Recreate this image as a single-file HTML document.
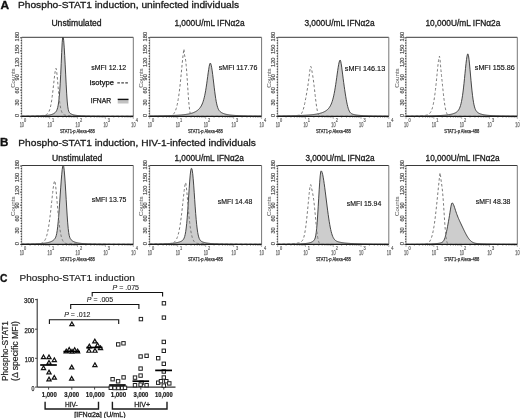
<!DOCTYPE html>
<html><head><meta charset="utf-8"><style>
html,body{margin:0;padding:0;background:#fff;overflow:hidden;}
svg{display:block;font-family:"Liberation Sans", sans-serif;}
.main{will-change:transform;}
</style></head><body>
<svg class="main" width="520" height="418" viewBox="0 0 520 418" font-family='"Liberation Sans", sans-serif'>
<rect width="520" height="418" fill="#fff"/>
<text x="0.40" y="8.70" font-size="10.2" textLength="8.60" lengthAdjust="spacingAndGlyphs" font-weight="bold" fill="#111" stroke="#111" stroke-width="0.3">A</text>
<text x="17.90" y="8.00" font-size="9.6" textLength="221.30" lengthAdjust="spacingAndGlyphs" fill="#1a1a1a" stroke="#1a1a1a" stroke-width="0.3">Phospho-STAT1 induction, uninfected individuals</text>
<text x="0.00" y="146.30" font-size="10.2" textLength="8.40" lengthAdjust="spacingAndGlyphs" font-weight="bold" fill="#111" stroke="#111" stroke-width="0.3">B</text>
<text x="18.30" y="145.60" font-size="9.6" textLength="237.60" lengthAdjust="spacingAndGlyphs" fill="#1a1a1a" stroke="#1a1a1a" stroke-width="0.3">Phospho-STAT1 induction, HIV-1-infected individuals</text>
<text x="0.00" y="282.00" font-size="10.2" textLength="7.40" lengthAdjust="spacingAndGlyphs" font-weight="bold" fill="#111" stroke="#111" stroke-width="0.3">C</text>
<text x="19.50" y="280.90" font-size="9.8" textLength="115.30" lengthAdjust="spacingAndGlyphs" fill="#1a1a1a" stroke="#1a1a1a" stroke-width="0.15">Phospho-STAT1 induction</text>
<text x="51.40" y="26.10" font-size="8.5" textLength="50.20" lengthAdjust="spacingAndGlyphs" fill="#1a1a1a" stroke="#1a1a1a" stroke-width="0.3">Unstimulated</text>
<svg x="21.7" y="37.3" width="111.6" height="79.00" viewBox="21.7 37.3 111.6 79.00" overflow="hidden">
<path d="M21.7,116.16 L22.2,116.16 L22.7,116.15 L23.2,116.15 L23.7,116.14 L24.2,116.14 L24.7,116.14 L25.2,116.13 L25.7,116.13 L26.2,116.12 L26.7,116.12 L27.2,116.11 L27.7,116.11 L28.2,116.10 L28.7,116.10 L29.2,116.09 L29.7,116.08 L30.2,116.08 L30.7,116.07 L31.2,116.06 L31.7,116.06 L32.2,116.05 L32.7,116.04 L33.2,116.03 L33.7,116.02 L34.2,116.01 L34.7,116.00 L35.2,115.99 L35.7,115.98 L36.2,115.97 L36.7,115.95 L37.2,115.94 L37.7,115.93 L38.2,115.91 L38.7,115.89 L39.2,115.88 L39.7,115.86 L40.2,115.84 L40.7,115.82 L41.2,115.80 L41.7,115.77 L42.2,115.75 L42.7,115.72 L43.2,115.69 L43.7,115.66 L44.2,115.62 L44.7,115.59 L45.2,115.55 L45.7,115.50 L46.2,115.46 L46.7,115.40 L47.2,115.35 L47.7,115.28 L48.2,115.22 L48.7,115.14 L49.2,115.06 L49.7,114.96 L50.2,114.86 L50.7,114.74 L51.2,114.61 L51.7,114.46 L52.2,114.29 L52.7,114.10 L53.2,113.88 L53.7,113.62 L54.2,113.32 L54.7,112.97 L55.2,112.54 L55.7,112.01 L56.2,111.33 L56.7,110.44 L57.2,109.22 L57.7,107.54 L58.2,105.18 L58.7,101.90 L59.2,97.42 L59.7,91.45 L60.2,83.81 L60.7,74.45 L61.2,63.67 L61.7,52.36 L62.2,42.40 L62.7,36.57 L62.9,36.00 L63.2,36.66 L63.7,40.58 L64.2,47.17 L64.7,55.46 L65.2,64.87 L65.7,74.92 L66.2,84.89 L66.7,93.86 L67.2,101.04 L67.7,106.13 L68.2,109.34 L68.7,111.19 L69.2,112.24 L69.7,112.87 L70.2,113.32 L70.7,113.67 L71.2,113.96 L71.7,114.20 L72.2,114.41 L72.7,114.59 L73.2,114.74 L73.7,114.88 L74.2,115.00 L74.7,115.10 L75.2,115.19 L75.7,115.28 L76.2,115.35 L76.7,115.41 L77.2,115.47 L77.7,115.53 L78.2,115.58 L78.7,115.62 L79.2,115.66 L79.7,115.70 L80.2,115.73 L80.7,115.76 L81.2,115.79 L81.7,115.82 L82.2,115.84 L82.7,115.86 L83.2,115.89 L83.7,115.90 L84.2,115.92 L84.7,115.94 L85.2,115.96 L85.7,115.97 L86.2,115.98 L86.7,116.00 L87.2,116.01 L87.7,116.02 L88.2,116.03 L88.7,116.04 L89.2,116.05 L89.7,116.06 L90.2,116.07 L90.7,116.08 L91.2,116.09 L91.7,116.09 L92.2,116.10 L92.7,116.11 L93.2,116.11 L93.7,116.12 L94.2,116.12 L94.7,116.13 L95.2,116.14 L95.7,116.14 L96.2,116.14 L96.7,116.15 L97.2,116.15 L97.7,116.16 L98.2,116.16 L98.7,116.17 L99.2,116.17 L99.7,116.17 L100.2,116.18 L100.7,116.18 L101.2,116.18 L101.7,116.19 L102.2,116.19 L102.7,116.19 L103.2,116.19 L103.7,116.20 L104.2,116.20 L104.7,116.20 L105.2,116.20 L105.7,116.21 L106.2,116.21 L106.7,116.21 L107.2,116.21 L107.7,116.21 L108.2,116.22 L108.7,116.22 L109.2,116.22 L109.7,116.22 L110.2,116.22 L110.7,116.22 L111.2,116.23 L111.7,116.23 L112.2,116.23 L112.7,116.23 L113.2,116.23 L113.7,116.23 L114.2,116.23 L114.7,116.24 L115.2,116.24 L115.7,116.24 L116.2,116.24 L116.7,116.24 L117.2,116.24 L117.7,116.24 L118.2,116.24 L118.7,116.24 L119.2,116.25 L119.7,116.25 L120.2,116.25 L120.7,116.25 L121.2,116.25 L121.7,116.25 L122.2,116.25 L122.7,116.25 L123.2,116.25 L123.7,116.25 L124.2,116.25 L124.7,116.25 L125.2,116.26 L125.7,116.26 L126.2,116.26 L126.7,116.26 L127.2,116.26 L127.7,116.26 L128.2,116.26 L128.7,116.26 L129.2,116.26 L129.7,116.26 L130.2,116.26 L130.7,116.26 L131.2,116.26 L131.7,116.26 L132.2,116.26 L132.7,116.26 L133.2,116.27 L133.3,119.3 L21.7,119.3 Z" fill="#cdcdcd" stroke="#333" stroke-width="0.9"/>
<path d="M21.7,116.15 L22.2,116.14 L22.7,116.14 L23.2,116.13 L23.7,116.13 L24.2,116.12 L24.7,116.12 L25.2,116.11 L25.7,116.11 L26.2,116.10 L26.7,116.09 L27.2,116.09 L27.7,116.08 L28.2,116.07 L28.7,116.06 L29.2,116.05 L29.7,116.05 L30.2,116.04 L30.7,116.03 L31.2,116.02 L31.7,116.00 L32.2,115.99 L32.7,115.98 L33.2,115.97 L33.7,115.95 L34.2,115.94 L34.7,115.92 L35.2,115.90 L35.7,115.89 L36.2,115.87 L36.7,115.85 L37.2,115.82 L37.7,115.80 L38.2,115.77 L38.7,115.74 L39.2,115.71 L39.7,115.68 L40.2,115.65 L40.7,115.61 L41.2,115.57 L41.7,115.52 L42.2,115.47 L42.7,115.41 L43.2,115.35 L43.7,115.27 L44.2,115.18 L44.7,115.08 L45.2,114.95 L45.7,114.79 L46.2,114.58 L46.7,114.32 L47.2,113.96 L47.7,113.50 L48.2,112.89 L48.7,112.09 L49.2,111.05 L49.7,109.70 L50.2,108.00 L50.7,105.88 L51.2,103.30 L51.7,100.21 L52.2,96.63 L52.7,92.59 L53.2,88.19 L53.7,83.59 L54.2,79.02 L54.7,74.77 L55.2,71.23 L55.7,68.86 L56.0,68.30 L56.2,68.71 L56.7,71.70 L57.2,76.41 L57.7,81.97 L58.2,87.74 L58.7,93.23 L59.2,98.12 L59.7,102.28 L60.2,105.65 L60.7,108.28 L61.2,110.28 L61.7,111.76 L62.2,112.82 L62.7,113.58 L63.2,114.12 L63.7,114.50 L64.2,114.77 L64.7,114.97 L65.2,115.12 L65.7,115.24 L66.2,115.34 L66.7,115.42 L67.2,115.49 L67.7,115.55 L68.2,115.60 L68.7,115.65 L69.2,115.70 L69.7,115.73 L70.2,115.77 L70.7,115.80 L71.2,115.83 L71.7,115.86 L72.2,115.88 L72.7,115.91 L73.2,115.93 L73.7,115.95 L74.2,115.97 L74.7,115.98 L75.2,116.00 L75.7,116.01 L76.2,116.02 L76.7,116.04 L77.2,116.05 L77.7,116.06 L78.2,116.07 L78.7,116.08 L79.2,116.09 L79.7,116.10 L80.2,116.11 L80.7,116.11 L81.2,116.12 L81.7,116.13 L82.2,116.13 L82.7,116.14 L83.2,116.14 L83.7,116.15 L84.2,116.16 L84.7,116.16 L85.2,116.16 L85.7,116.17 L86.2,116.17 L86.7,116.18 L87.2,116.18 L87.7,116.18 L88.2,116.19 L88.7,116.19 L89.2,116.19 L89.7,116.20 L90.2,116.20 L90.7,116.20 L91.2,116.21 L91.7,116.21 L92.2,116.21 L92.7,116.21 L93.2,116.22 L93.7,116.22 L94.2,116.22 L94.7,116.22 L95.2,116.22 L95.7,116.23 L96.2,116.23 L96.7,116.23 L97.2,116.23 L97.7,116.23 L98.2,116.23 L98.7,116.24 L99.2,116.24 L99.7,116.24 L100.2,116.24 L100.7,116.24 L101.2,116.24 L101.7,116.24 L102.2,116.25 L102.7,116.25 L103.2,116.25 L103.7,116.25 L104.2,116.25 L104.7,116.25 L105.2,116.25 L105.7,116.25 L106.2,116.25 L106.7,116.25 L107.2,116.26 L107.7,116.26 L108.2,116.26 L108.7,116.26 L109.2,116.26 L109.7,116.26 L110.2,116.26 L110.7,116.26 L111.2,116.26 L111.7,116.26 L112.2,116.26 L112.7,116.26 L113.2,116.26 L113.7,116.26 L114.2,116.27 L114.7,116.27 L115.2,116.27 L115.7,116.27 L116.2,116.27 L116.7,116.27 L117.2,116.27 L117.7,116.27 L118.2,116.27 L118.7,116.27 L119.2,116.27 L119.7,116.27 L120.2,116.27 L120.7,116.27 L121.2,116.27 L121.7,116.27 L122.2,116.27 L122.7,116.27 L123.2,116.27 L123.7,116.27 L124.2,116.27 L124.7,116.28 L125.2,116.28 L125.7,116.28 L126.2,116.28 L126.7,116.28 L127.2,116.28 L127.7,116.28 L128.2,116.28 L128.7,116.28 L129.2,116.28 L129.7,116.28 L130.2,116.28 L130.7,116.28 L131.2,116.28 L131.7,116.28 L132.2,116.28 L132.7,116.28 L133.2,116.28" fill="none" stroke="#7a7a7a" stroke-width="1.0" stroke-dasharray="2.6,2.2"/>
</svg>
<line x1="21.70" y1="37.30" x2="133.30" y2="37.30" stroke="#3a3a3a" stroke-width="1"/>
<line x1="133.30" y1="37.30" x2="133.30" y2="116.30" stroke="#777" stroke-width="1"/>
<line x1="21.70" y1="37.30" x2="21.70" y2="116.30" stroke="#888" stroke-width="0.8"/>
<path d="M22.00,116.30 h-2.0 M22.00,113.68 h-1.3 M22.00,111.07 h-1.3 M22.00,108.45 h-1.3 M22.00,105.83 h-1.3 M22.00,103.22 h-2.0 M22.00,100.60 h-1.3 M22.00,97.98 h-1.3 M22.00,95.37 h-1.3 M22.00,92.75 h-1.3 M22.00,90.13 h-2.0 M22.00,87.52 h-1.3 M22.00,84.90 h-1.3 M22.00,82.28 h-1.3 M22.00,79.67 h-1.3 M22.00,77.05 h-2.0 M22.00,74.43 h-1.3 M22.00,71.82 h-1.3 M22.00,69.20 h-1.3 M22.00,66.58 h-1.3 M22.00,63.97 h-2.0 M22.00,61.35 h-1.3 M22.00,58.73 h-1.3 M22.00,56.12 h-1.3 M22.00,53.50 h-1.3 M22.00,50.88 h-2.0 M22.00,48.27 h-1.3 M22.00,45.65 h-1.3 M22.00,43.03 h-1.3 M22.00,40.42 h-1.3 M22.00,37.80 h-2.0" stroke="#333" stroke-width="0.9"/>
<line x1="21.30" y1="116.30" x2="133.30" y2="116.30" stroke="#1a1a1a" stroke-width="1.3"/>
<path d="M21.70,116.90 v2.0 M30.10,116.90 v1.0 M35.01,116.90 v1.0 M38.50,116.90 v1.0 M41.20,116.90 v1.0 M43.41,116.90 v1.0 M45.28,116.90 v1.0 M46.90,116.90 v1.0 M48.32,116.90 v1.0 M49.60,116.90 v2.0 M58.00,116.90 v1.0 M62.91,116.90 v1.0 M66.40,116.90 v1.0 M69.10,116.90 v1.0 M71.31,116.90 v1.0 M73.18,116.90 v1.0 M74.80,116.90 v1.0 M76.22,116.90 v1.0 M77.50,116.90 v2.0 M85.90,116.90 v1.0 M90.81,116.90 v1.0 M94.30,116.90 v1.0 M97.00,116.90 v1.0 M99.21,116.90 v1.0 M101.08,116.90 v1.0 M102.70,116.90 v1.0 M104.12,116.90 v1.0 M105.40,116.90 v2.0 M113.80,116.90 v1.0 M118.71,116.90 v1.0 M122.20,116.90 v1.0 M124.90,116.90 v1.0 M127.11,116.90 v1.0 M128.98,116.90 v1.0 M130.60,116.90 v1.0 M132.02,116.90 v1.0 M133.30,116.90 v2.0" stroke="#666" stroke-width="0.5"/>
<text transform="translate(19.30,115.50) rotate(-90)" font-size="4.6" text-anchor="middle" textLength="3.20" lengthAdjust="spacingAndGlyphs" fill="#555" stroke="#555" stroke-width="0.2">0</text>
<text transform="translate(19.30,102.40) rotate(-90)" font-size="4.6" text-anchor="middle" textLength="6.20" lengthAdjust="spacingAndGlyphs" fill="#555" stroke="#555" stroke-width="0.2">30</text>
<text transform="translate(19.30,90.30) rotate(-90)" font-size="4.6" text-anchor="middle" textLength="6.20" lengthAdjust="spacingAndGlyphs" fill="#555" stroke="#555" stroke-width="0.2">60</text>
<text transform="translate(19.30,77.30) rotate(-90)" font-size="4.6" text-anchor="middle" textLength="6.20" lengthAdjust="spacingAndGlyphs" fill="#555" stroke="#555" stroke-width="0.2">90</text>
<text transform="translate(19.30,62.30) rotate(-90)" font-size="4.6" text-anchor="middle" textLength="9.40" lengthAdjust="spacingAndGlyphs" fill="#555" stroke="#555" stroke-width="0.2">120</text>
<text transform="translate(19.30,49.40) rotate(-90)" font-size="4.6" text-anchor="middle" textLength="9.40" lengthAdjust="spacingAndGlyphs" fill="#555" stroke="#555" stroke-width="0.2">150</text>
<text transform="translate(19.30,36.70) rotate(-90)" font-size="4.6" text-anchor="middle" textLength="9.40" lengthAdjust="spacingAndGlyphs" fill="#555" stroke="#555" stroke-width="0.2">180</text>
<text transform="translate(15.10,78.10) rotate(-90)" font-size="4.8" text-anchor="middle" textLength="19.50" lengthAdjust="spacingAndGlyphs" fill="#666" stroke="#666" stroke-width="0.05">Counts</text>
<text x="19.70" y="126.50" font-size="6.8" textLength="4.3" lengthAdjust="spacingAndGlyphs" fill="#666" stroke="#666" stroke-width="0.25">10</text>
<text x="24.10" y="122.30" font-size="4.8" textLength="2.2" lengthAdjust="spacingAndGlyphs" fill="#666" stroke="#666" stroke-width="0.2">0</text>
<text x="47.60" y="126.50" font-size="6.8" textLength="4.3" lengthAdjust="spacingAndGlyphs" fill="#666" stroke="#666" stroke-width="0.25">10</text>
<text x="52.00" y="122.30" font-size="4.8" textLength="2.2" lengthAdjust="spacingAndGlyphs" fill="#666" stroke="#666" stroke-width="0.2">1</text>
<text x="75.50" y="126.50" font-size="6.8" textLength="4.3" lengthAdjust="spacingAndGlyphs" fill="#666" stroke="#666" stroke-width="0.25">10</text>
<text x="79.90" y="122.30" font-size="4.8" textLength="2.2" lengthAdjust="spacingAndGlyphs" fill="#666" stroke="#666" stroke-width="0.2">2</text>
<text x="103.40" y="126.50" font-size="6.8" textLength="4.3" lengthAdjust="spacingAndGlyphs" fill="#666" stroke="#666" stroke-width="0.25">10</text>
<text x="107.80" y="122.30" font-size="4.8" textLength="2.2" lengthAdjust="spacingAndGlyphs" fill="#666" stroke="#666" stroke-width="0.2">3</text>
<text x="131.30" y="126.50" font-size="6.8" textLength="4.3" lengthAdjust="spacingAndGlyphs" fill="#666" stroke="#666" stroke-width="0.25">10</text>
<text x="135.70" y="122.30" font-size="4.8" textLength="2.2" lengthAdjust="spacingAndGlyphs" fill="#666" stroke="#666" stroke-width="0.2">4</text>
<text x="59.90" y="132.50" font-size="5.2" textLength="35" lengthAdjust="spacingAndGlyphs" fill="#333" stroke="#333" stroke-width="0.25">STAT1-p Alexa-488</text>
<text x="91.30" y="69.80" font-size="7.1" textLength="34.90" lengthAdjust="spacingAndGlyphs" fill="#111" stroke="#111" stroke-width="0.15">sMFI 12.12</text>
<text x="174.40" y="26.10" font-size="8.5" textLength="70.20" lengthAdjust="spacingAndGlyphs" fill="#1a1a1a" stroke="#1a1a1a" stroke-width="0.3">1,000U/mL IFN&#945;2a</text>
<svg x="149.7" y="37.3" width="111.9" height="79.00" viewBox="149.7 37.3 111.9 79.00" overflow="hidden">
<path d="M149.7,115.98 L150.2,115.98 L150.7,115.97 L151.2,115.97 L151.7,115.96 L152.2,115.96 L152.7,115.95 L153.2,115.94 L153.7,115.94 L154.2,115.93 L154.7,115.92 L155.2,115.92 L155.7,115.91 L156.2,115.90 L156.7,115.90 L157.2,115.89 L157.7,115.88 L158.2,115.87 L158.7,115.86 L159.2,115.86 L159.7,115.85 L160.2,115.84 L160.7,115.83 L161.2,115.82 L161.7,115.81 L162.2,115.80 L162.7,115.79 L163.2,115.78 L163.7,115.77 L164.2,115.76 L164.7,115.74 L165.2,115.73 L165.7,115.72 L166.2,115.71 L166.7,115.69 L167.2,115.68 L167.7,115.66 L168.2,115.65 L168.7,115.63 L169.2,115.62 L169.7,115.60 L170.2,115.58 L170.7,115.57 L171.2,115.55 L171.7,115.53 L172.2,115.51 L172.7,115.49 L173.2,115.47 L173.7,115.44 L174.2,115.42 L174.7,115.40 L175.2,115.37 L175.7,115.34 L176.2,115.32 L176.7,115.29 L177.2,115.26 L177.7,115.23 L178.2,115.19 L178.7,115.16 L179.2,115.12 L179.7,115.09 L180.2,115.05 L180.7,115.01 L181.2,114.96 L181.7,114.92 L182.2,114.87 L182.7,114.82 L183.2,114.77 L183.7,114.71 L184.2,114.65 L184.7,114.59 L185.2,114.53 L185.7,114.46 L186.2,114.39 L186.7,114.31 L187.2,114.23 L187.7,114.14 L188.2,114.05 L188.7,113.95 L189.2,113.84 L189.7,113.73 L190.2,113.61 L190.7,113.49 L191.2,113.35 L191.7,113.21 L192.2,113.05 L192.7,112.88 L193.2,112.70 L193.7,112.50 L194.2,112.29 L194.7,112.06 L195.2,111.82 L195.7,111.55 L196.2,111.26 L196.7,110.94 L197.2,110.59 L197.7,110.21 L198.2,109.78 L198.7,109.32 L199.2,108.80 L199.7,108.22 L200.2,107.57 L200.7,106.84 L201.2,106.02 L201.7,105.07 L202.2,103.99 L202.7,102.75 L203.2,101.32 L203.7,99.67 L204.2,97.77 L204.7,95.60 L205.2,93.12 L205.7,90.32 L206.2,87.22 L206.7,83.84 L207.2,80.24 L207.7,76.52 L208.2,72.83 L208.7,69.37 L209.2,66.38 L209.7,64.14 L210.2,63.10 L210.7,63.61 L211.2,65.17 L211.7,67.66 L212.2,70.90 L212.7,74.67 L213.2,78.75 L213.7,82.98 L214.2,87.19 L214.7,91.24 L215.2,95.01 L215.7,98.41 L216.2,101.36 L216.7,103.85 L217.2,105.89 L217.7,107.51 L218.2,108.78 L218.7,109.76 L219.2,110.53 L219.7,111.14 L220.2,111.63 L220.7,112.04 L221.2,112.38 L221.7,112.69 L222.2,112.95 L222.7,113.19 L223.2,113.40 L223.7,113.60 L224.2,113.77 L224.7,113.93 L225.2,114.07 L225.7,114.21 L226.2,114.33 L226.7,114.44 L227.2,114.54 L227.7,114.63 L228.2,114.72 L228.7,114.80 L229.2,114.88 L229.7,114.94 L230.2,115.01 L230.7,115.07 L231.2,115.12 L231.7,115.18 L232.2,115.23 L232.7,115.27 L233.2,115.31 L233.7,115.35 L234.2,115.39 L234.7,115.43 L235.2,115.46 L235.7,115.49 L236.2,115.52 L236.7,115.55 L237.2,115.58 L237.7,115.60 L238.2,115.63 L238.7,115.65 L239.2,115.67 L239.7,115.69 L240.2,115.71 L240.7,115.73 L241.2,115.75 L241.7,115.77 L242.2,115.78 L242.7,115.80 L243.2,115.81 L243.7,115.83 L244.2,115.84 L244.7,115.85 L245.2,115.87 L245.7,115.88 L246.2,115.89 L246.7,115.90 L247.2,115.91 L247.7,115.92 L248.2,115.93 L248.7,115.94 L249.2,115.95 L249.7,115.96 L250.2,115.97 L250.7,115.98 L251.2,115.98 L251.7,115.99 L252.2,116.00 L252.7,116.00 L253.2,116.01 L253.7,116.02 L254.2,116.02 L254.7,116.03 L255.2,116.04 L255.7,116.04 L256.2,116.05 L256.7,116.05 L257.2,116.06 L257.7,116.06 L258.2,116.07 L258.7,116.07 L259.2,116.08 L259.7,116.08 L260.2,116.09 L260.7,116.09 L261.2,116.09 L261.6,119.3 L149.7,119.3 Z" fill="#cdcdcd" stroke="#333" stroke-width="0.9"/>
<path d="M149.7,116.30 L150.2,116.30 L150.7,116.30 L151.2,116.30 L151.7,116.30 L152.2,116.30 L152.7,116.30 L153.2,116.30 L153.7,116.30 L154.2,116.30 L154.7,116.30 L155.2,116.30 L155.7,116.30 L156.2,116.30 L156.7,116.30 L157.2,116.30 L157.7,116.30 L158.2,116.30 L158.7,116.30 L159.2,116.30 L159.7,116.30 L160.2,116.30 L160.7,116.30 L161.2,116.30 L161.7,116.30 L162.2,116.30 L162.7,116.30 L163.2,116.30 L163.7,116.29 L164.2,116.29 L164.7,116.29 L165.2,116.28 L165.7,116.28 L166.2,116.27 L166.7,116.25 L167.2,116.24 L167.7,116.21 L168.2,116.18 L168.7,116.14 L169.2,116.08 L169.7,116.01 L170.2,115.91 L170.7,115.79 L171.2,115.62 L171.7,115.41 L172.2,115.15 L172.7,114.81 L173.2,114.38 L173.7,113.84 L174.2,113.17 L174.7,112.34 L175.2,111.33 L175.7,110.10 L176.2,108.62 L176.7,106.85 L177.2,104.76 L177.7,102.31 L178.2,99.47 L178.7,96.23 L179.2,92.56 L179.7,88.47 L180.2,83.98 L180.7,79.14 L181.2,74.03 L181.7,68.77 L182.2,63.52 L182.7,58.52 L183.2,54.08 L183.7,50.55 L184.0,49.00 L184.2,52.54 L184.7,55.95 L185.2,57.74 L185.7,60.76 L186.2,65.38 L186.7,71.54 L187.2,78.85 L187.7,86.68 L188.2,94.31 L188.7,101.07 L189.2,106.51 L189.7,110.50 L190.2,113.15 L190.7,114.74 L191.2,115.60 L191.7,116.02 L192.2,116.19 L192.7,116.26 L193.2,116.29 L193.7,116.29 L194.2,116.30 L194.7,116.30 L195.2,116.30 L195.7,116.30 L196.2,116.30 L196.7,116.30 L197.2,116.30 L197.7,116.30 L198.2,116.30 L198.7,116.30 L199.2,116.30 L199.7,116.30 L200.2,116.30 L200.7,116.30 L201.2,116.30 L201.7,116.30 L202.2,116.30 L202.7,116.30 L203.2,116.30 L203.7,116.30 L204.2,116.30 L204.7,116.30 L205.2,116.30 L205.7,116.30 L206.2,116.30 L206.7,116.30 L207.2,116.30 L207.7,116.30 L208.2,116.30 L208.7,116.30 L209.2,116.30 L209.7,116.30 L210.2,116.30 L210.7,116.30 L211.2,116.30 L211.7,116.30 L212.2,116.30 L212.7,116.30 L213.2,116.30 L213.7,116.30 L214.2,116.30 L214.7,116.30 L215.2,116.30 L215.7,116.30 L216.2,116.30 L216.7,116.30 L217.2,116.30 L217.7,116.30 L218.2,116.30 L218.7,116.30 L219.2,116.30 L219.7,116.30 L220.2,116.30 L220.7,116.30 L221.2,116.30 L221.7,116.30 L222.2,116.30 L222.7,116.30 L223.2,116.30 L223.7,116.30 L224.2,116.30 L224.7,116.30 L225.2,116.30 L225.7,116.30 L226.2,116.30 L226.7,116.30 L227.2,116.30 L227.7,116.30 L228.2,116.30 L228.7,116.30 L229.2,116.30 L229.7,116.30 L230.2,116.30 L230.7,116.30 L231.2,116.30 L231.7,116.30 L232.2,116.30 L232.7,116.30 L233.2,116.30 L233.7,116.30 L234.2,116.30 L234.7,116.30 L235.2,116.30 L235.7,116.30 L236.2,116.30 L236.7,116.30 L237.2,116.30 L237.7,116.30 L238.2,116.30 L238.7,116.30 L239.2,116.30 L239.7,116.30 L240.2,116.30 L240.7,116.30 L241.2,116.30 L241.7,116.30 L242.2,116.30 L242.7,116.30 L243.2,116.30 L243.7,116.30 L244.2,116.30 L244.7,116.30 L245.2,116.30 L245.7,116.30 L246.2,116.30 L246.7,116.30 L247.2,116.30 L247.7,116.30 L248.2,116.30 L248.7,116.30 L249.2,116.30 L249.7,116.30 L250.2,116.30 L250.7,116.30 L251.2,116.30 L251.7,116.30 L252.2,116.30 L252.7,116.30 L253.2,116.30 L253.7,116.30 L254.2,116.30 L254.7,116.30 L255.2,116.30 L255.7,116.30 L256.2,116.30 L256.7,116.30 L257.2,116.30 L257.7,116.30 L258.2,116.30 L258.7,116.30 L259.2,116.30 L259.7,116.30 L260.2,116.30 L260.7,116.30 L261.2,116.30" fill="none" stroke="#7a7a7a" stroke-width="1.0" stroke-dasharray="2.6,2.2"/>
</svg>
<line x1="149.70" y1="37.30" x2="261.60" y2="37.30" stroke="#3a3a3a" stroke-width="1"/>
<line x1="261.60" y1="37.30" x2="261.60" y2="116.30" stroke="#777" stroke-width="1"/>
<line x1="149.70" y1="37.30" x2="149.70" y2="116.30" stroke="#888" stroke-width="0.8"/>
<path d="M150.00,116.30 h-2.0 M150.00,113.68 h-1.3 M150.00,111.07 h-1.3 M150.00,108.45 h-1.3 M150.00,105.83 h-1.3 M150.00,103.22 h-2.0 M150.00,100.60 h-1.3 M150.00,97.98 h-1.3 M150.00,95.37 h-1.3 M150.00,92.75 h-1.3 M150.00,90.13 h-2.0 M150.00,87.52 h-1.3 M150.00,84.90 h-1.3 M150.00,82.28 h-1.3 M150.00,79.67 h-1.3 M150.00,77.05 h-2.0 M150.00,74.43 h-1.3 M150.00,71.82 h-1.3 M150.00,69.20 h-1.3 M150.00,66.58 h-1.3 M150.00,63.97 h-2.0 M150.00,61.35 h-1.3 M150.00,58.73 h-1.3 M150.00,56.12 h-1.3 M150.00,53.50 h-1.3 M150.00,50.88 h-2.0 M150.00,48.27 h-1.3 M150.00,45.65 h-1.3 M150.00,43.03 h-1.3 M150.00,40.42 h-1.3 M150.00,37.80 h-2.0" stroke="#333" stroke-width="0.9"/>
<line x1="149.30" y1="116.30" x2="261.60" y2="116.30" stroke="#1a1a1a" stroke-width="1.3"/>
<path d="M149.70,116.90 v2.0 M158.12,116.90 v1.0 M163.05,116.90 v1.0 M166.54,116.90 v1.0 M169.25,116.90 v1.0 M171.47,116.90 v1.0 M173.34,116.90 v1.0 M174.96,116.90 v1.0 M176.39,116.90 v1.0 M177.67,116.90 v2.0 M186.10,116.90 v1.0 M191.02,116.90 v1.0 M194.52,116.90 v1.0 M197.23,116.90 v1.0 M199.44,116.90 v1.0 M201.32,116.90 v1.0 M202.94,116.90 v1.0 M204.37,116.90 v1.0 M205.65,116.90 v2.0 M214.07,116.90 v1.0 M219.00,116.90 v1.0 M222.49,116.90 v1.0 M225.20,116.90 v1.0 M227.42,116.90 v1.0 M229.29,116.90 v1.0 M230.91,116.90 v1.0 M232.34,116.90 v1.0 M233.62,116.90 v2.0 M242.05,116.90 v1.0 M246.97,116.90 v1.0 M250.47,116.90 v1.0 M253.18,116.90 v1.0 M255.39,116.90 v1.0 M257.27,116.90 v1.0 M258.89,116.90 v1.0 M260.32,116.90 v1.0 M261.60,116.90 v2.0" stroke="#666" stroke-width="0.5"/>
<text transform="translate(147.30,115.50) rotate(-90)" font-size="4.6" text-anchor="middle" textLength="3.20" lengthAdjust="spacingAndGlyphs" fill="#555" stroke="#555" stroke-width="0.2">0</text>
<text transform="translate(147.30,102.40) rotate(-90)" font-size="4.6" text-anchor="middle" textLength="6.20" lengthAdjust="spacingAndGlyphs" fill="#555" stroke="#555" stroke-width="0.2">30</text>
<text transform="translate(147.30,90.30) rotate(-90)" font-size="4.6" text-anchor="middle" textLength="6.20" lengthAdjust="spacingAndGlyphs" fill="#555" stroke="#555" stroke-width="0.2">60</text>
<text transform="translate(147.30,77.30) rotate(-90)" font-size="4.6" text-anchor="middle" textLength="6.20" lengthAdjust="spacingAndGlyphs" fill="#555" stroke="#555" stroke-width="0.2">90</text>
<text transform="translate(147.30,62.30) rotate(-90)" font-size="4.6" text-anchor="middle" textLength="9.40" lengthAdjust="spacingAndGlyphs" fill="#555" stroke="#555" stroke-width="0.2">120</text>
<text transform="translate(147.30,49.40) rotate(-90)" font-size="4.6" text-anchor="middle" textLength="9.40" lengthAdjust="spacingAndGlyphs" fill="#555" stroke="#555" stroke-width="0.2">150</text>
<text transform="translate(147.30,36.70) rotate(-90)" font-size="4.6" text-anchor="middle" textLength="9.40" lengthAdjust="spacingAndGlyphs" fill="#555" stroke="#555" stroke-width="0.2">180</text>
<text transform="translate(143.10,78.10) rotate(-90)" font-size="4.8" text-anchor="middle" textLength="19.50" lengthAdjust="spacingAndGlyphs" fill="#666" stroke="#666" stroke-width="0.05">Counts</text>
<text x="147.70" y="126.50" font-size="6.8" textLength="4.3" lengthAdjust="spacingAndGlyphs" fill="#666" stroke="#666" stroke-width="0.25">10</text>
<text x="152.10" y="122.30" font-size="4.8" textLength="2.2" lengthAdjust="spacingAndGlyphs" fill="#666" stroke="#666" stroke-width="0.2">0</text>
<text x="175.67" y="126.50" font-size="6.8" textLength="4.3" lengthAdjust="spacingAndGlyphs" fill="#666" stroke="#666" stroke-width="0.25">10</text>
<text x="180.07" y="122.30" font-size="4.8" textLength="2.2" lengthAdjust="spacingAndGlyphs" fill="#666" stroke="#666" stroke-width="0.2">1</text>
<text x="203.65" y="126.50" font-size="6.8" textLength="4.3" lengthAdjust="spacingAndGlyphs" fill="#666" stroke="#666" stroke-width="0.25">10</text>
<text x="208.05" y="122.30" font-size="4.8" textLength="2.2" lengthAdjust="spacingAndGlyphs" fill="#666" stroke="#666" stroke-width="0.2">2</text>
<text x="231.62" y="126.50" font-size="6.8" textLength="4.3" lengthAdjust="spacingAndGlyphs" fill="#666" stroke="#666" stroke-width="0.25">10</text>
<text x="236.03" y="122.30" font-size="4.8" textLength="2.2" lengthAdjust="spacingAndGlyphs" fill="#666" stroke="#666" stroke-width="0.2">3</text>
<text x="259.60" y="126.50" font-size="6.8" textLength="4.3" lengthAdjust="spacingAndGlyphs" fill="#666" stroke="#666" stroke-width="0.25">10</text>
<text x="264.00" y="122.30" font-size="4.8" textLength="2.2" lengthAdjust="spacingAndGlyphs" fill="#666" stroke="#666" stroke-width="0.2">4</text>
<text x="187.90" y="132.50" font-size="5.2" textLength="35" lengthAdjust="spacingAndGlyphs" fill="#333" stroke="#333" stroke-width="0.25">STAT1-p Alexa-488</text>
<text x="218.80" y="70.40" font-size="7.1" textLength="38.50" lengthAdjust="spacingAndGlyphs" fill="#111" stroke="#111" stroke-width="0.15">sMFI 117.76</text>
<text x="304.40" y="26.10" font-size="8.5" textLength="70.20" lengthAdjust="spacingAndGlyphs" fill="#1a1a1a" stroke="#1a1a1a" stroke-width="0.3">3,000U/mL IFN&#945;2a</text>
<svg x="277.7" y="37.3" width="111.1" height="79.00" viewBox="277.7 37.3 111.1 79.00" overflow="hidden">
<path d="M277.7,115.97 L278.2,115.96 L278.7,115.96 L279.2,115.95 L279.7,115.94 L280.2,115.94 L280.7,115.93 L281.2,115.93 L281.7,115.92 L282.2,115.91 L282.7,115.91 L283.2,115.90 L283.7,115.89 L284.2,115.88 L284.7,115.88 L285.2,115.87 L285.7,115.86 L286.2,115.85 L286.7,115.85 L287.2,115.84 L287.7,115.83 L288.2,115.82 L288.7,115.81 L289.2,115.80 L289.7,115.79 L290.2,115.78 L290.7,115.77 L291.2,115.76 L291.7,115.75 L292.2,115.74 L292.7,115.73 L293.2,115.71 L293.7,115.70 L294.2,115.69 L294.7,115.67 L295.2,115.66 L295.7,115.65 L296.2,115.63 L296.7,115.62 L297.2,115.60 L297.7,115.58 L298.2,115.57 L298.7,115.55 L299.2,115.53 L299.7,115.51 L300.2,115.49 L300.7,115.47 L301.2,115.45 L301.7,115.43 L302.2,115.41 L302.7,115.39 L303.2,115.36 L303.7,115.34 L304.2,115.31 L304.7,115.28 L305.2,115.26 L305.7,115.23 L306.2,115.19 L306.7,115.16 L307.2,115.13 L307.7,115.09 L308.2,115.06 L308.7,115.02 L309.2,114.98 L309.7,114.94 L310.2,114.89 L310.7,114.85 L311.2,114.80 L311.7,114.75 L312.2,114.69 L312.7,114.64 L313.2,114.58 L313.7,114.52 L314.2,114.45 L314.7,114.38 L315.2,114.31 L315.7,114.23 L316.2,114.15 L316.7,114.06 L317.2,113.97 L317.7,113.87 L318.2,113.77 L318.7,113.66 L319.2,113.54 L319.7,113.41 L320.2,113.28 L320.7,113.14 L321.2,112.98 L321.7,112.82 L322.2,112.64 L322.7,112.45 L323.2,112.25 L323.7,112.03 L324.2,111.79 L324.7,111.53 L325.2,111.25 L325.7,110.95 L326.2,110.61 L326.7,110.24 L327.2,109.83 L327.7,109.38 L328.2,108.87 L328.7,108.31 L329.2,107.67 L329.7,106.94 L330.2,106.12 L330.7,105.18 L331.2,104.10 L331.7,102.86 L332.2,101.44 L332.7,99.80 L333.2,97.94 L333.7,95.83 L334.2,93.44 L334.7,90.78 L335.2,87.84 L335.7,84.65 L336.2,81.24 L336.7,77.69 L337.2,74.09 L337.7,70.56 L338.2,67.26 L338.7,64.37 L339.2,62.07 L339.7,60.56 L340.1,60.10 L340.2,60.13 L340.7,61.24 L341.2,63.72 L341.7,67.11 L342.2,70.95 L342.7,74.91 L343.2,78.80 L343.7,82.57 L344.2,86.21 L344.7,89.71 L345.2,93.06 L345.7,96.24 L346.2,99.21 L346.7,101.93 L347.2,104.35 L347.7,106.46 L348.2,108.25 L348.7,109.71 L349.2,110.88 L349.7,111.80 L350.2,112.49 L350.7,113.02 L351.2,113.43 L351.7,113.73 L352.2,113.98 L352.7,114.17 L353.2,114.34 L353.7,114.48 L354.2,114.60 L354.7,114.71 L355.2,114.81 L355.7,114.90 L356.2,114.98 L356.7,115.06 L357.2,115.13 L357.7,115.19 L358.2,115.25 L358.7,115.30 L359.2,115.35 L359.7,115.40 L360.2,115.44 L360.7,115.48 L361.2,115.52 L361.7,115.56 L362.2,115.59 L362.7,115.62 L363.2,115.65 L363.7,115.67 L364.2,115.70 L364.7,115.72 L365.2,115.75 L365.7,115.77 L366.2,115.79 L366.7,115.81 L367.2,115.82 L367.7,115.84 L368.2,115.86 L368.7,115.87 L369.2,115.89 L369.7,115.90 L370.2,115.91 L370.7,115.93 L371.2,115.94 L371.7,115.95 L372.2,115.96 L372.7,115.97 L373.2,115.98 L373.7,115.99 L374.2,116.00 L374.7,116.01 L375.2,116.01 L375.7,116.02 L376.2,116.03 L376.7,116.04 L377.2,116.04 L377.7,116.05 L378.2,116.06 L378.7,116.06 L379.2,116.07 L379.7,116.08 L380.2,116.08 L380.7,116.09 L381.2,116.09 L381.7,116.10 L382.2,116.10 L382.7,116.11 L383.2,116.11 L383.7,116.11 L384.2,116.12 L384.7,116.12 L385.2,116.13 L385.7,116.13 L386.2,116.13 L386.7,116.14 L387.2,116.14 L387.7,116.14 L388.2,116.15 L388.7,116.15 L388.8,119.3 L277.7,119.3 Z" fill="#cdcdcd" stroke="#333" stroke-width="0.9"/>
<path d="M277.7,116.15 L278.2,116.15 L278.7,116.14 L279.2,116.14 L279.7,116.13 L280.2,116.13 L280.7,116.12 L281.2,116.12 L281.7,116.11 L282.2,116.10 L282.7,116.10 L283.2,116.09 L283.7,116.08 L284.2,116.07 L284.7,116.06 L285.2,116.06 L285.7,116.05 L286.2,116.04 L286.7,116.02 L287.2,116.01 L287.7,116.00 L288.2,115.99 L288.7,115.97 L289.2,115.96 L289.7,115.94 L290.2,115.92 L290.7,115.91 L291.2,115.89 L291.7,115.86 L292.2,115.84 L292.7,115.82 L293.2,115.79 L293.7,115.76 L294.2,115.73 L294.7,115.69 L295.2,115.65 L295.7,115.61 L296.2,115.56 L296.7,115.51 L297.2,115.45 L297.7,115.38 L298.2,115.31 L298.7,115.21 L299.2,115.09 L299.7,114.92 L300.2,114.68 L300.7,114.35 L301.2,113.87 L301.7,113.21 L302.2,112.32 L302.7,111.15 L303.2,109.68 L303.7,107.92 L304.2,105.86 L304.7,103.57 L305.2,101.09 L305.7,98.46 L306.2,95.75 L306.7,92.96 L307.2,90.06 L307.7,87.00 L308.2,83.67 L308.7,79.96 L309.2,75.88 L309.7,71.70 L310.2,68.19 L310.7,66.45 L310.8,66.40 L311.2,67.21 L311.7,69.69 L312.2,72.56 L312.7,75.52 L313.2,78.77 L313.7,82.46 L314.2,86.60 L314.7,91.04 L315.2,95.57 L315.7,99.94 L316.2,103.92 L316.7,107.34 L317.2,110.10 L317.7,112.21 L318.2,113.71 L318.7,114.72 L319.2,115.35 L319.7,115.73 L320.2,115.94 L320.7,116.06 L321.2,116.12 L321.7,116.15 L322.2,116.17 L322.7,116.18 L323.2,116.19 L323.7,116.20 L324.2,116.21 L324.7,116.21 L325.2,116.22 L325.7,116.23 L326.2,116.23 L326.7,116.23 L327.2,116.24 L327.7,116.24 L328.2,116.25 L328.7,116.25 L329.2,116.25 L329.7,116.25 L330.2,116.26 L330.7,116.26 L331.2,116.26 L331.7,116.26 L332.2,116.26 L332.7,116.27 L333.2,116.27 L333.7,116.27 L334.2,116.27 L334.7,116.27 L335.2,116.27 L335.7,116.27 L336.2,116.27 L336.7,116.28 L337.2,116.28 L337.7,116.28 L338.2,116.28 L338.7,116.28 L339.2,116.28 L339.7,116.28 L340.2,116.28 L340.7,116.28 L341.2,116.28 L341.7,116.28 L342.2,116.28 L342.7,116.28 L343.2,116.28 L343.7,116.28 L344.2,116.29 L344.7,116.29 L345.2,116.29 L345.7,116.29 L346.2,116.29 L346.7,116.29 L347.2,116.29 L347.7,116.29 L348.2,116.29 L348.7,116.29 L349.2,116.29 L349.7,116.29 L350.2,116.29 L350.7,116.29 L351.2,116.29 L351.7,116.29 L352.2,116.29 L352.7,116.29 L353.2,116.29 L353.7,116.29 L354.2,116.29 L354.7,116.29 L355.2,116.29 L355.7,116.29 L356.2,116.29 L356.7,116.29 L357.2,116.29 L357.7,116.29 L358.2,116.29 L358.7,116.29 L359.2,116.29 L359.7,116.29 L360.2,116.29 L360.7,116.29 L361.2,116.29 L361.7,116.29 L362.2,116.29 L362.7,116.29 L363.2,116.29 L363.7,116.29 L364.2,116.29 L364.7,116.29 L365.2,116.29 L365.7,116.29 L366.2,116.29 L366.7,116.29 L367.2,116.29 L367.7,116.29 L368.2,116.29 L368.7,116.30 L369.2,116.30 L369.7,116.30 L370.2,116.30 L370.7,116.30 L371.2,116.30 L371.7,116.30 L372.2,116.30 L372.7,116.30 L373.2,116.30 L373.7,116.30 L374.2,116.30 L374.7,116.30 L375.2,116.30 L375.7,116.30 L376.2,116.30 L376.7,116.30 L377.2,116.30 L377.7,116.30 L378.2,116.30 L378.7,116.30 L379.2,116.30 L379.7,116.30 L380.2,116.30 L380.7,116.30 L381.2,116.30 L381.7,116.30 L382.2,116.30 L382.7,116.30 L383.2,116.30 L383.7,116.30 L384.2,116.30 L384.7,116.30 L385.2,116.30 L385.7,116.30 L386.2,116.30 L386.7,116.30 L387.2,116.30 L387.7,116.30 L388.2,116.30 L388.7,116.30" fill="none" stroke="#7a7a7a" stroke-width="1.0" stroke-dasharray="2.6,2.2"/>
</svg>
<line x1="277.70" y1="37.30" x2="388.80" y2="37.30" stroke="#3a3a3a" stroke-width="1"/>
<line x1="388.80" y1="37.30" x2="388.80" y2="116.30" stroke="#777" stroke-width="1"/>
<line x1="277.70" y1="37.30" x2="277.70" y2="116.30" stroke="#888" stroke-width="0.8"/>
<path d="M278.00,116.30 h-2.0 M278.00,113.68 h-1.3 M278.00,111.07 h-1.3 M278.00,108.45 h-1.3 M278.00,105.83 h-1.3 M278.00,103.22 h-2.0 M278.00,100.60 h-1.3 M278.00,97.98 h-1.3 M278.00,95.37 h-1.3 M278.00,92.75 h-1.3 M278.00,90.13 h-2.0 M278.00,87.52 h-1.3 M278.00,84.90 h-1.3 M278.00,82.28 h-1.3 M278.00,79.67 h-1.3 M278.00,77.05 h-2.0 M278.00,74.43 h-1.3 M278.00,71.82 h-1.3 M278.00,69.20 h-1.3 M278.00,66.58 h-1.3 M278.00,63.97 h-2.0 M278.00,61.35 h-1.3 M278.00,58.73 h-1.3 M278.00,56.12 h-1.3 M278.00,53.50 h-1.3 M278.00,50.88 h-2.0 M278.00,48.27 h-1.3 M278.00,45.65 h-1.3 M278.00,43.03 h-1.3 M278.00,40.42 h-1.3 M278.00,37.80 h-2.0" stroke="#333" stroke-width="0.9"/>
<line x1="277.30" y1="116.30" x2="388.80" y2="116.30" stroke="#1a1a1a" stroke-width="1.3"/>
<path d="M277.70,116.90 v2.0 M286.06,116.90 v1.0 M290.95,116.90 v1.0 M294.42,116.90 v1.0 M297.11,116.90 v1.0 M299.31,116.90 v1.0 M301.17,116.90 v1.0 M302.78,116.90 v1.0 M304.20,116.90 v1.0 M305.47,116.90 v2.0 M313.84,116.90 v1.0 M318.73,116.90 v1.0 M322.20,116.90 v1.0 M324.89,116.90 v1.0 M327.09,116.90 v1.0 M328.95,116.90 v1.0 M330.56,116.90 v1.0 M331.98,116.90 v1.0 M333.25,116.90 v2.0 M341.61,116.90 v1.0 M346.50,116.90 v1.0 M349.97,116.90 v1.0 M352.66,116.90 v1.0 M354.86,116.90 v1.0 M356.72,116.90 v1.0 M358.33,116.90 v1.0 M359.75,116.90 v1.0 M361.02,116.90 v2.0 M369.39,116.90 v1.0 M374.28,116.90 v1.0 M377.75,116.90 v1.0 M380.44,116.90 v1.0 M382.64,116.90 v1.0 M384.50,116.90 v1.0 M386.11,116.90 v1.0 M387.53,116.90 v1.0 M388.80,116.90 v2.0" stroke="#666" stroke-width="0.5"/>
<text transform="translate(275.30,115.50) rotate(-90)" font-size="4.6" text-anchor="middle" textLength="3.20" lengthAdjust="spacingAndGlyphs" fill="#555" stroke="#555" stroke-width="0.2">0</text>
<text transform="translate(275.30,102.40) rotate(-90)" font-size="4.6" text-anchor="middle" textLength="6.20" lengthAdjust="spacingAndGlyphs" fill="#555" stroke="#555" stroke-width="0.2">30</text>
<text transform="translate(275.30,90.30) rotate(-90)" font-size="4.6" text-anchor="middle" textLength="6.20" lengthAdjust="spacingAndGlyphs" fill="#555" stroke="#555" stroke-width="0.2">60</text>
<text transform="translate(275.30,77.30) rotate(-90)" font-size="4.6" text-anchor="middle" textLength="6.20" lengthAdjust="spacingAndGlyphs" fill="#555" stroke="#555" stroke-width="0.2">90</text>
<text transform="translate(275.30,62.30) rotate(-90)" font-size="4.6" text-anchor="middle" textLength="9.40" lengthAdjust="spacingAndGlyphs" fill="#555" stroke="#555" stroke-width="0.2">120</text>
<text transform="translate(275.30,49.40) rotate(-90)" font-size="4.6" text-anchor="middle" textLength="9.40" lengthAdjust="spacingAndGlyphs" fill="#555" stroke="#555" stroke-width="0.2">150</text>
<text transform="translate(275.30,36.70) rotate(-90)" font-size="4.6" text-anchor="middle" textLength="9.40" lengthAdjust="spacingAndGlyphs" fill="#555" stroke="#555" stroke-width="0.2">180</text>
<text transform="translate(271.10,78.10) rotate(-90)" font-size="4.8" text-anchor="middle" textLength="19.50" lengthAdjust="spacingAndGlyphs" fill="#666" stroke="#666" stroke-width="0.05">Counts</text>
<text x="275.70" y="126.50" font-size="6.8" textLength="4.3" lengthAdjust="spacingAndGlyphs" fill="#666" stroke="#666" stroke-width="0.25">10</text>
<text x="280.10" y="122.30" font-size="4.8" textLength="2.2" lengthAdjust="spacingAndGlyphs" fill="#666" stroke="#666" stroke-width="0.2">0</text>
<text x="303.47" y="126.50" font-size="6.8" textLength="4.3" lengthAdjust="spacingAndGlyphs" fill="#666" stroke="#666" stroke-width="0.25">10</text>
<text x="307.87" y="122.30" font-size="4.8" textLength="2.2" lengthAdjust="spacingAndGlyphs" fill="#666" stroke="#666" stroke-width="0.2">1</text>
<text x="331.25" y="126.50" font-size="6.8" textLength="4.3" lengthAdjust="spacingAndGlyphs" fill="#666" stroke="#666" stroke-width="0.25">10</text>
<text x="335.65" y="122.30" font-size="4.8" textLength="2.2" lengthAdjust="spacingAndGlyphs" fill="#666" stroke="#666" stroke-width="0.2">2</text>
<text x="359.02" y="126.50" font-size="6.8" textLength="4.3" lengthAdjust="spacingAndGlyphs" fill="#666" stroke="#666" stroke-width="0.25">10</text>
<text x="363.42" y="122.30" font-size="4.8" textLength="2.2" lengthAdjust="spacingAndGlyphs" fill="#666" stroke="#666" stroke-width="0.2">3</text>
<text x="386.80" y="126.50" font-size="6.8" textLength="4.3" lengthAdjust="spacingAndGlyphs" fill="#666" stroke="#666" stroke-width="0.25">10</text>
<text x="391.20" y="122.30" font-size="4.8" textLength="2.2" lengthAdjust="spacingAndGlyphs" fill="#666" stroke="#666" stroke-width="0.2">4</text>
<text x="315.90" y="132.50" font-size="5.2" textLength="35" lengthAdjust="spacingAndGlyphs" fill="#333" stroke="#333" stroke-width="0.25">STAT1-p Alexa-488</text>
<text x="344.80" y="71.10" font-size="7.1" textLength="40.40" lengthAdjust="spacingAndGlyphs" fill="#111" stroke="#111" stroke-width="0.15">sMFI  146.13</text>
<text x="425.40" y="26.10" font-size="8.5" textLength="75.00" lengthAdjust="spacingAndGlyphs" fill="#1a1a1a" stroke="#1a1a1a" stroke-width="0.3">10,000U/mL IFN&#945;2a</text>
<svg x="406.0" y="37.3" width="111.3" height="79.00" viewBox="406.0 37.3 111.3 79.00" overflow="hidden">
<path d="M406.0,116.14 L406.5,116.14 L407.0,116.13 L407.5,116.13 L408.0,116.13 L408.5,116.12 L409.0,116.12 L409.5,116.12 L410.0,116.12 L410.5,116.11 L411.0,116.11 L411.5,116.11 L412.0,116.10 L412.5,116.10 L413.0,116.09 L413.5,116.09 L414.0,116.09 L414.5,116.08 L415.0,116.08 L415.5,116.08 L416.0,116.07 L416.5,116.07 L417.0,116.06 L417.5,116.06 L418.0,116.05 L418.5,116.05 L419.0,116.04 L419.5,116.04 L420.0,116.03 L420.5,116.03 L421.0,116.02 L421.5,116.01 L422.0,116.01 L422.5,116.00 L423.0,115.99 L423.5,115.99 L424.0,115.98 L424.5,115.97 L425.0,115.97 L425.5,115.96 L426.0,115.95 L426.5,115.94 L427.0,115.93 L427.5,115.92 L428.0,115.91 L428.5,115.90 L429.0,115.89 L429.5,115.88 L430.0,115.87 L430.5,115.86 L431.0,115.85 L431.5,115.84 L432.0,115.83 L432.5,115.81 L433.0,115.80 L433.5,115.78 L434.0,115.77 L434.5,115.75 L435.0,115.74 L435.5,115.72 L436.0,115.70 L436.5,115.68 L437.0,115.66 L437.5,115.64 L438.0,115.62 L438.5,115.60 L439.0,115.57 L439.5,115.55 L440.0,115.52 L440.5,115.50 L441.0,115.47 L441.5,115.44 L442.0,115.40 L442.5,115.37 L443.0,115.33 L443.5,115.29 L444.0,115.25 L444.5,115.21 L445.0,115.16 L445.5,115.11 L446.0,115.06 L446.5,115.01 L447.0,114.95 L447.5,114.88 L448.0,114.82 L448.5,114.74 L449.0,114.67 L449.5,114.58 L450.0,114.49 L450.5,114.39 L451.0,114.29 L451.5,114.18 L452.0,114.05 L452.5,113.92 L453.0,113.77 L453.5,113.61 L454.0,113.43 L454.5,113.23 L455.0,113.01 L455.5,112.76 L456.0,112.47 L456.5,112.14 L457.0,111.76 L457.5,111.30 L458.0,110.75 L458.5,110.09 L459.0,109.28 L459.5,108.28 L460.0,107.05 L460.5,105.55 L461.0,103.71 L461.5,101.49 L462.0,98.82 L462.5,95.69 L463.0,92.06 L463.5,87.95 L464.0,83.40 L464.5,78.51 L465.0,73.43 L465.5,68.38 L466.0,63.62 L466.5,59.46 L467.0,56.23 L467.5,54.29 L467.8,53.90 L468.0,54.05 L468.5,55.78 L469.0,59.25 L469.5,63.95 L470.0,69.36 L470.5,75.03 L471.0,80.65 L471.5,86.00 L472.0,90.92 L472.5,95.31 L473.0,99.09 L473.5,102.26 L474.0,104.84 L474.5,106.88 L475.0,108.46 L475.5,109.68 L476.0,110.60 L476.5,111.32 L477.0,111.88 L477.5,112.33 L478.0,112.70 L478.5,113.01 L479.0,113.28 L479.5,113.52 L480.0,113.73 L480.5,113.91 L481.0,114.08 L481.5,114.23 L482.0,114.37 L482.5,114.49 L483.0,114.60 L483.5,114.70 L484.0,114.80 L484.5,114.88 L485.0,114.96 L485.5,115.03 L486.0,115.10 L486.5,115.16 L487.0,115.22 L487.5,115.27 L488.0,115.32 L488.5,115.36 L489.0,115.41 L489.5,115.45 L490.0,115.48 L490.5,115.52 L491.0,115.55 L491.5,115.58 L492.0,115.61 L492.5,115.64 L493.0,115.66 L493.5,115.69 L494.0,115.71 L494.5,115.73 L495.0,115.75 L495.5,115.77 L496.0,115.79 L496.5,115.81 L497.0,115.82 L497.5,115.84 L498.0,115.85 L498.5,115.87 L499.0,115.88 L499.5,115.90 L500.0,115.91 L500.5,115.92 L501.0,115.93 L501.5,115.94 L502.0,115.95 L502.5,115.96 L503.0,115.97 L503.5,115.98 L504.0,115.99 L504.5,116.00 L505.0,116.01 L505.5,116.01 L506.0,116.02 L506.5,116.03 L507.0,116.03 L507.5,116.04 L508.0,116.05 L508.5,116.05 L509.0,116.06 L509.5,116.07 L510.0,116.07 L510.5,116.08 L511.0,116.08 L511.5,116.09 L512.0,116.09 L512.5,116.10 L513.0,116.10 L513.5,116.10 L514.0,116.11 L514.5,116.11 L515.0,116.12 L515.5,116.12 L516.0,116.12 L516.5,116.13 L517.0,116.13 L517.3,119.3 L406.0,119.3 Z" fill="#cdcdcd" stroke="#333" stroke-width="0.9"/>
<path d="M406.0,116.13 L406.5,116.13 L407.0,116.12 L407.5,116.11 L408.0,116.11 L408.5,116.10 L409.0,116.10 L409.5,116.09 L410.0,116.08 L410.5,116.08 L411.0,116.07 L411.5,116.06 L412.0,116.05 L412.5,116.04 L413.0,116.03 L413.5,116.02 L414.0,116.01 L414.5,116.00 L415.0,115.99 L415.5,115.97 L416.0,115.96 L416.5,115.95 L417.0,115.93 L417.5,115.91 L418.0,115.90 L418.5,115.88 L419.0,115.86 L419.5,115.83 L420.0,115.81 L420.5,115.78 L421.0,115.76 L421.5,115.73 L422.0,115.69 L422.5,115.66 L423.0,115.62 L423.5,115.57 L424.0,115.52 L424.5,115.47 L425.0,115.40 L425.5,115.33 L426.0,115.23 L426.5,115.12 L427.0,114.99 L427.5,114.82 L428.0,114.61 L428.5,114.35 L429.0,114.01 L429.5,113.58 L430.0,113.04 L430.5,112.36 L431.0,111.50 L431.5,110.43 L432.0,109.10 L432.5,107.47 L433.0,105.50 L433.5,103.15 L434.0,100.38 L434.5,97.16 L435.0,93.48 L435.5,89.34 L436.0,84.78 L436.5,79.88 L437.0,74.74 L437.5,69.59 L438.0,64.70 L438.5,60.49 L439.0,57.46 L439.5,56.20 L440.0,59.37 L440.5,65.18 L441.0,70.55 L441.5,75.50 L442.0,80.39 L442.5,85.31 L443.0,90.18 L443.5,94.86 L444.0,99.17 L444.5,102.99 L445.0,106.25 L445.5,108.92 L446.0,111.03 L446.5,112.63 L447.0,113.80 L447.5,114.63 L448.0,115.19 L448.5,115.56 L449.0,115.80 L449.5,115.95 L450.0,116.05 L450.5,116.10 L451.0,116.14 L451.5,116.16 L452.0,116.18 L452.5,116.19 L453.0,116.20 L453.5,116.21 L454.0,116.21 L454.5,116.22 L455.0,116.22 L455.5,116.23 L456.0,116.23 L456.5,116.24 L457.0,116.24 L457.5,116.24 L458.0,116.25 L458.5,116.25 L459.0,116.25 L459.5,116.25 L460.0,116.26 L460.5,116.26 L461.0,116.26 L461.5,116.26 L462.0,116.26 L462.5,116.27 L463.0,116.27 L463.5,116.27 L464.0,116.27 L464.5,116.27 L465.0,116.27 L465.5,116.27 L466.0,116.27 L466.5,116.27 L467.0,116.28 L467.5,116.28 L468.0,116.28 L468.5,116.28 L469.0,116.28 L469.5,116.28 L470.0,116.28 L470.5,116.28 L471.0,116.28 L471.5,116.28 L472.0,116.28 L472.5,116.28 L473.0,116.28 L473.5,116.28 L474.0,116.28 L474.5,116.29 L475.0,116.29 L475.5,116.29 L476.0,116.29 L476.5,116.29 L477.0,116.29 L477.5,116.29 L478.0,116.29 L478.5,116.29 L479.0,116.29 L479.5,116.29 L480.0,116.29 L480.5,116.29 L481.0,116.29 L481.5,116.29 L482.0,116.29 L482.5,116.29 L483.0,116.29 L483.5,116.29 L484.0,116.29 L484.5,116.29 L485.0,116.29 L485.5,116.29 L486.0,116.29 L486.5,116.29 L487.0,116.29 L487.5,116.29 L488.0,116.29 L488.5,116.29 L489.0,116.29 L489.5,116.29 L490.0,116.29 L490.5,116.29 L491.0,116.29 L491.5,116.29 L492.0,116.29 L492.5,116.29 L493.0,116.29 L493.5,116.29 L494.0,116.29 L494.5,116.29 L495.0,116.29 L495.5,116.29 L496.0,116.29 L496.5,116.29 L497.0,116.29 L497.5,116.29 L498.0,116.29 L498.5,116.29 L499.0,116.29 L499.5,116.29 L500.0,116.30 L500.5,116.30 L501.0,116.30 L501.5,116.30 L502.0,116.30 L502.5,116.30 L503.0,116.30 L503.5,116.30 L504.0,116.30 L504.5,116.30 L505.0,116.30 L505.5,116.30 L506.0,116.30 L506.5,116.30 L507.0,116.30 L507.5,116.30 L508.0,116.30 L508.5,116.30 L509.0,116.30 L509.5,116.30 L510.0,116.30 L510.5,116.30 L511.0,116.30 L511.5,116.30 L512.0,116.30 L512.5,116.30 L513.0,116.30 L513.5,116.30 L514.0,116.30 L514.5,116.30 L515.0,116.30 L515.5,116.30 L516.0,116.30 L516.5,116.30 L517.0,116.30" fill="none" stroke="#7a7a7a" stroke-width="1.0" stroke-dasharray="2.6,2.2"/>
</svg>
<line x1="406.00" y1="37.30" x2="517.30" y2="37.30" stroke="#3a3a3a" stroke-width="1"/>
<line x1="517.30" y1="37.30" x2="517.30" y2="116.30" stroke="#777" stroke-width="1"/>
<line x1="406.00" y1="37.30" x2="406.00" y2="116.30" stroke="#888" stroke-width="0.8"/>
<path d="M406.30,116.30 h-2.0 M406.30,113.68 h-1.3 M406.30,111.07 h-1.3 M406.30,108.45 h-1.3 M406.30,105.83 h-1.3 M406.30,103.22 h-2.0 M406.30,100.60 h-1.3 M406.30,97.98 h-1.3 M406.30,95.37 h-1.3 M406.30,92.75 h-1.3 M406.30,90.13 h-2.0 M406.30,87.52 h-1.3 M406.30,84.90 h-1.3 M406.30,82.28 h-1.3 M406.30,79.67 h-1.3 M406.30,77.05 h-2.0 M406.30,74.43 h-1.3 M406.30,71.82 h-1.3 M406.30,69.20 h-1.3 M406.30,66.58 h-1.3 M406.30,63.97 h-2.0 M406.30,61.35 h-1.3 M406.30,58.73 h-1.3 M406.30,56.12 h-1.3 M406.30,53.50 h-1.3 M406.30,50.88 h-2.0 M406.30,48.27 h-1.3 M406.30,45.65 h-1.3 M406.30,43.03 h-1.3 M406.30,40.42 h-1.3 M406.30,37.80 h-2.0" stroke="#333" stroke-width="0.9"/>
<line x1="405.60" y1="116.30" x2="517.30" y2="116.30" stroke="#1a1a1a" stroke-width="1.3"/>
<path d="M406.00,116.90 v2.0 M414.38,116.90 v1.0 M419.28,116.90 v1.0 M422.75,116.90 v1.0 M425.45,116.90 v1.0 M427.65,116.90 v1.0 M429.51,116.90 v1.0 M431.13,116.90 v1.0 M432.55,116.90 v1.0 M433.82,116.90 v2.0 M442.20,116.90 v1.0 M447.10,116.90 v1.0 M450.58,116.90 v1.0 M453.27,116.90 v1.0 M455.48,116.90 v1.0 M457.34,116.90 v1.0 M458.95,116.90 v1.0 M460.38,116.90 v1.0 M461.65,116.90 v2.0 M470.03,116.90 v1.0 M474.93,116.90 v1.0 M478.40,116.90 v1.0 M481.10,116.90 v1.0 M483.30,116.90 v1.0 M485.16,116.90 v1.0 M486.78,116.90 v1.0 M488.20,116.90 v1.0 M489.48,116.90 v2.0 M497.85,116.90 v1.0 M502.75,116.90 v1.0 M506.23,116.90 v1.0 M508.92,116.90 v1.0 M511.13,116.90 v1.0 M512.99,116.90 v1.0 M514.60,116.90 v1.0 M516.03,116.90 v1.0 M517.30,116.90 v2.0" stroke="#666" stroke-width="0.5"/>
<text transform="translate(403.60,115.50) rotate(-90)" font-size="4.6" text-anchor="middle" textLength="3.20" lengthAdjust="spacingAndGlyphs" fill="#555" stroke="#555" stroke-width="0.2">0</text>
<text transform="translate(403.60,102.40) rotate(-90)" font-size="4.6" text-anchor="middle" textLength="6.20" lengthAdjust="spacingAndGlyphs" fill="#555" stroke="#555" stroke-width="0.2">30</text>
<text transform="translate(403.60,90.30) rotate(-90)" font-size="4.6" text-anchor="middle" textLength="6.20" lengthAdjust="spacingAndGlyphs" fill="#555" stroke="#555" stroke-width="0.2">60</text>
<text transform="translate(403.60,77.30) rotate(-90)" font-size="4.6" text-anchor="middle" textLength="6.20" lengthAdjust="spacingAndGlyphs" fill="#555" stroke="#555" stroke-width="0.2">90</text>
<text transform="translate(403.60,62.30) rotate(-90)" font-size="4.6" text-anchor="middle" textLength="9.40" lengthAdjust="spacingAndGlyphs" fill="#555" stroke="#555" stroke-width="0.2">120</text>
<text transform="translate(403.60,49.40) rotate(-90)" font-size="4.6" text-anchor="middle" textLength="9.40" lengthAdjust="spacingAndGlyphs" fill="#555" stroke="#555" stroke-width="0.2">150</text>
<text transform="translate(403.60,36.70) rotate(-90)" font-size="4.6" text-anchor="middle" textLength="9.40" lengthAdjust="spacingAndGlyphs" fill="#555" stroke="#555" stroke-width="0.2">180</text>
<text transform="translate(399.40,78.10) rotate(-90)" font-size="4.8" text-anchor="middle" textLength="19.50" lengthAdjust="spacingAndGlyphs" fill="#666" stroke="#666" stroke-width="0.05">Counts</text>
<text x="404.00" y="126.50" font-size="6.8" textLength="4.3" lengthAdjust="spacingAndGlyphs" fill="#666" stroke="#666" stroke-width="0.25">10</text>
<text x="408.40" y="122.30" font-size="4.8" textLength="2.2" lengthAdjust="spacingAndGlyphs" fill="#666" stroke="#666" stroke-width="0.2">0</text>
<text x="431.82" y="126.50" font-size="6.8" textLength="4.3" lengthAdjust="spacingAndGlyphs" fill="#666" stroke="#666" stroke-width="0.25">10</text>
<text x="436.22" y="122.30" font-size="4.8" textLength="2.2" lengthAdjust="spacingAndGlyphs" fill="#666" stroke="#666" stroke-width="0.2">1</text>
<text x="459.65" y="126.50" font-size="6.8" textLength="4.3" lengthAdjust="spacingAndGlyphs" fill="#666" stroke="#666" stroke-width="0.25">10</text>
<text x="464.05" y="122.30" font-size="4.8" textLength="2.2" lengthAdjust="spacingAndGlyphs" fill="#666" stroke="#666" stroke-width="0.2">2</text>
<text x="487.48" y="126.50" font-size="6.8" textLength="4.3" lengthAdjust="spacingAndGlyphs" fill="#666" stroke="#666" stroke-width="0.25">10</text>
<text x="491.88" y="122.30" font-size="4.8" textLength="2.2" lengthAdjust="spacingAndGlyphs" fill="#666" stroke="#666" stroke-width="0.2">3</text>
<text x="515.30" y="126.50" font-size="6.8" textLength="4.3" lengthAdjust="spacingAndGlyphs" fill="#666" stroke="#666" stroke-width="0.25">10</text>
<text x="519.70" y="122.30" font-size="4.8" textLength="2.2" lengthAdjust="spacingAndGlyphs" fill="#666" stroke="#666" stroke-width="0.2">4</text>
<text x="444.20" y="132.50" font-size="5.2" textLength="35" lengthAdjust="spacingAndGlyphs" fill="#333" stroke="#333" stroke-width="0.25">STAT1-p Alexa-488</text>
<text x="474.80" y="70.40" font-size="7.1" textLength="39.90" lengthAdjust="spacingAndGlyphs" fill="#111" stroke="#111" stroke-width="0.15">sMFI 155.86</text>
<text x="52.10" y="160.50" font-size="8.5" textLength="50.10" lengthAdjust="spacingAndGlyphs" fill="#1a1a1a" stroke="#1a1a1a" stroke-width="0.3">Unstimulated</text>
<svg x="21.7" y="165.5" width="111.6" height="78.90" viewBox="21.7 165.5 111.6 78.90" overflow="hidden">
<path d="M21.7,244.15 L22.2,244.14 L22.7,244.13 L23.2,244.13 L23.7,244.12 L24.2,244.11 L24.7,244.11 L25.2,244.10 L25.7,244.09 L26.2,244.08 L26.7,244.07 L27.2,244.06 L27.7,244.05 L28.2,244.04 L28.7,244.03 L29.2,244.02 L29.7,244.01 L30.2,244.00 L30.7,243.99 L31.2,243.98 L31.7,243.96 L32.2,243.95 L32.7,243.93 L33.2,243.92 L33.7,243.90 L34.2,243.88 L34.7,243.87 L35.2,243.85 L35.7,243.83 L36.2,243.81 L36.7,243.78 L37.2,243.76 L37.7,243.73 L38.2,243.71 L38.7,243.68 L39.2,243.65 L39.7,243.62 L40.2,243.58 L40.7,243.55 L41.2,243.51 L41.7,243.47 L42.2,243.43 L42.7,243.38 L43.2,243.33 L43.7,243.27 L44.2,243.22 L44.7,243.15 L45.2,243.08 L45.7,243.01 L46.2,242.93 L46.7,242.84 L47.2,242.75 L47.7,242.64 L48.2,242.53 L48.7,242.40 L49.2,242.26 L49.7,242.11 L50.2,241.94 L50.7,241.75 L51.2,241.54 L51.7,241.30 L52.2,241.04 L52.7,240.74 L53.2,240.39 L53.7,239.99 L54.2,239.52 L54.7,238.95 L55.2,238.20 L55.7,237.17 L56.2,235.70 L56.7,233.59 L57.2,230.64 L57.7,226.70 L58.2,221.73 L58.7,215.83 L59.2,209.22 L59.7,202.17 L60.2,194.97 L60.7,187.85 L61.2,181.04 L61.7,174.82 L62.2,169.67 L62.7,166.21 L63.2,165.00 L63.7,166.33 L64.2,170.19 L64.7,176.00 L65.2,183.12 L65.7,191.09 L66.2,199.53 L66.7,207.99 L67.2,215.95 L67.7,222.89 L68.2,228.45 L68.7,232.56 L69.2,235.36 L69.7,237.19 L70.2,238.38 L70.7,239.20 L71.2,239.81 L71.7,240.29 L72.2,240.70 L72.7,241.05 L73.2,241.35 L73.7,241.62 L74.2,241.85 L74.7,242.05 L75.2,242.23 L75.7,242.40 L76.2,242.54 L76.7,242.67 L77.2,242.79 L77.7,242.89 L78.2,242.99 L78.7,243.07 L79.2,243.15 L79.7,243.23 L80.2,243.29 L80.7,243.35 L81.2,243.41 L81.7,243.46 L82.2,243.51 L82.7,243.55 L83.2,243.59 L83.7,243.63 L84.2,243.67 L84.7,243.70 L85.2,243.73 L85.7,243.76 L86.2,243.79 L86.7,243.81 L87.2,243.84 L87.7,243.86 L88.2,243.88 L88.7,243.90 L89.2,243.92 L89.7,243.94 L90.2,243.95 L90.7,243.97 L91.2,243.98 L91.7,244.00 L92.2,244.01 L92.7,244.03 L93.2,244.04 L93.7,244.05 L94.2,244.06 L94.7,244.07 L95.2,244.08 L95.7,244.09 L96.2,244.10 L96.7,244.11 L97.2,244.12 L97.7,244.13 L98.2,244.13 L98.7,244.14 L99.2,244.15 L99.7,244.15 L100.2,244.16 L100.7,244.17 L101.2,244.17 L101.7,244.18 L102.2,244.18 L102.7,244.19 L103.2,244.20 L103.7,244.20 L104.2,244.21 L104.7,244.21 L105.2,244.21 L105.7,244.22 L106.2,244.22 L106.7,244.23 L107.2,244.23 L107.7,244.23 L108.2,244.24 L108.7,244.24 L109.2,244.25 L109.7,244.25 L110.2,244.25 L110.7,244.25 L111.2,244.26 L111.7,244.26 L112.2,244.26 L112.7,244.27 L113.2,244.27 L113.7,244.27 L114.2,244.27 L114.7,244.28 L115.2,244.28 L115.7,244.28 L116.2,244.28 L116.7,244.29 L117.2,244.29 L117.7,244.29 L118.2,244.29 L118.7,244.29 L119.2,244.30 L119.7,244.30 L120.2,244.30 L120.7,244.30 L121.2,244.30 L121.7,244.30 L122.2,244.31 L122.7,244.31 L123.2,244.31 L123.7,244.31 L124.2,244.31 L124.7,244.31 L125.2,244.31 L125.7,244.32 L126.2,244.32 L126.7,244.32 L127.2,244.32 L127.7,244.32 L128.2,244.32 L128.7,244.32 L129.2,244.32 L129.7,244.33 L130.2,244.33 L130.7,244.33 L131.2,244.33 L131.7,244.33 L132.2,244.33 L132.7,244.33 L133.2,244.33 L133.3,247.4 L21.7,247.4 Z" fill="#cdcdcd" stroke="#333" stroke-width="0.9"/>
<path d="M21.7,243.99 L22.2,243.99 L22.7,243.98 L23.2,243.98 L23.7,243.97 L24.2,243.96 L24.7,243.96 L25.2,243.95 L25.7,243.95 L26.2,243.94 L26.7,243.94 L27.2,243.93 L27.7,243.93 L28.2,243.92 L28.7,243.92 L29.2,243.91 L29.7,243.91 L30.2,243.90 L30.7,243.89 L31.2,243.89 L31.7,243.88 L32.2,243.88 L32.7,243.87 L33.2,243.86 L33.7,243.86 L34.2,243.85 L34.7,243.84 L35.2,243.84 L35.7,243.83 L36.2,243.82 L36.7,243.80 L37.2,243.79 L37.7,243.77 L38.2,243.75 L38.7,243.71 L39.2,243.67 L39.7,243.61 L40.2,243.54 L40.7,243.44 L41.2,243.32 L41.7,243.15 L42.2,242.94 L42.7,242.66 L43.2,242.30 L43.7,241.85 L44.2,241.28 L44.7,240.57 L45.2,239.68 L45.7,238.60 L46.2,237.29 L46.7,235.72 L47.2,233.85 L47.7,231.65 L48.2,229.11 L48.7,226.19 L49.2,222.90 L49.7,219.24 L50.2,215.23 L50.7,210.92 L51.2,206.38 L51.7,201.70 L52.2,197.01 L52.7,192.48 L53.2,188.29 L53.7,184.70 L54.2,182.00 L54.7,180.70 L55.2,182.57 L55.7,186.41 L56.2,191.39 L56.7,197.01 L57.2,202.88 L57.7,208.68 L58.2,214.18 L58.7,219.24 L59.2,223.76 L59.7,227.70 L60.2,231.05 L60.7,233.85 L61.2,236.14 L61.7,237.98 L62.2,239.43 L62.7,240.57 L63.2,241.43 L63.7,242.09 L64.2,242.58 L64.7,242.94 L65.2,243.20 L65.7,243.39 L66.2,243.52 L66.7,243.61 L67.2,243.68 L67.7,243.73 L68.2,243.76 L68.7,243.79 L69.2,243.81 L69.7,243.82 L70.2,243.83 L70.7,243.84 L71.2,243.85 L71.7,243.86 L72.2,243.87 L72.7,243.88 L73.2,243.88 L73.7,243.89 L74.2,243.90 L74.7,243.91 L75.2,243.91 L75.7,243.92 L76.2,243.93 L76.7,243.93 L77.2,243.94 L77.7,243.95 L78.2,243.95 L78.7,243.96 L79.2,243.97 L79.7,243.97 L80.2,243.98 L80.7,243.99 L81.2,243.99 L81.7,244.00 L82.2,244.00 L82.7,244.01 L83.2,244.02 L83.7,244.02 L84.2,244.03 L84.7,244.03 L85.2,244.04 L85.7,244.05 L86.2,244.05 L86.7,244.06 L87.2,244.06 L87.7,244.07 L88.2,244.07 L88.7,244.08 L89.2,244.08 L89.7,244.09 L90.2,244.09 L90.7,244.10 L91.2,244.10 L91.7,244.11 L92.2,244.11 L92.7,244.11 L93.2,244.12 L93.7,244.12 L94.2,244.13 L94.7,244.13 L95.2,244.14 L95.7,244.14 L96.2,244.14 L96.7,244.15 L97.2,244.15 L97.7,244.15 L98.2,244.16 L98.7,244.16 L99.2,244.17 L99.7,244.17 L100.2,244.17 L100.7,244.18 L101.2,244.18 L101.7,244.18 L102.2,244.19 L102.7,244.19 L103.2,244.19 L103.7,244.19 L104.2,244.20 L104.7,244.20 L105.2,244.20 L105.7,244.21 L106.2,244.21 L106.7,244.21 L107.2,244.21 L107.7,244.22 L108.2,244.22 L108.7,244.22 L109.2,244.22 L109.7,244.23 L110.2,244.23 L110.7,244.23 L111.2,244.23 L111.7,244.24 L112.2,244.24 L112.7,244.24 L113.2,244.24 L113.7,244.24 L114.2,244.25 L114.7,244.25 L115.2,244.25 L115.7,244.25 L116.2,244.25 L116.7,244.26 L117.2,244.26 L117.7,244.26 L118.2,244.26 L118.7,244.26 L119.2,244.26 L119.7,244.27 L120.2,244.27 L120.7,244.27 L121.2,244.27 L121.7,244.27 L122.2,244.27 L122.7,244.28 L123.2,244.28 L123.7,244.28 L124.2,244.28 L124.7,244.28 L125.2,244.28 L125.7,244.28 L126.2,244.29 L126.7,244.29 L127.2,244.29 L127.7,244.29 L128.2,244.29 L128.7,244.29 L129.2,244.29 L129.7,244.29 L130.2,244.30 L130.7,244.30 L131.2,244.30 L131.7,244.30 L132.2,244.30 L132.7,244.30 L133.2,244.30" fill="none" stroke="#7a7a7a" stroke-width="1.0" stroke-dasharray="2.6,2.2"/>
</svg>
<line x1="21.70" y1="165.50" x2="133.30" y2="165.50" stroke="#3a3a3a" stroke-width="1"/>
<line x1="133.30" y1="165.50" x2="133.30" y2="244.40" stroke="#777" stroke-width="1"/>
<line x1="21.70" y1="165.50" x2="21.70" y2="244.40" stroke="#888" stroke-width="0.8"/>
<path d="M22.00,244.40 h-2.0 M22.00,241.79 h-1.3 M22.00,239.17 h-1.3 M22.00,236.56 h-1.3 M22.00,233.95 h-1.3 M22.00,231.33 h-2.0 M22.00,228.72 h-1.3 M22.00,226.11 h-1.3 M22.00,223.49 h-1.3 M22.00,220.88 h-1.3 M22.00,218.27 h-2.0 M22.00,215.65 h-1.3 M22.00,213.04 h-1.3 M22.00,210.43 h-1.3 M22.00,207.81 h-1.3 M22.00,205.20 h-2.0 M22.00,202.59 h-1.3 M22.00,199.97 h-1.3 M22.00,197.36 h-1.3 M22.00,194.75 h-1.3 M22.00,192.13 h-2.0 M22.00,189.52 h-1.3 M22.00,186.91 h-1.3 M22.00,184.29 h-1.3 M22.00,181.68 h-1.3 M22.00,179.07 h-2.0 M22.00,176.45 h-1.3 M22.00,173.84 h-1.3 M22.00,171.23 h-1.3 M22.00,168.61 h-1.3 M22.00,166.00 h-2.0" stroke="#333" stroke-width="0.9"/>
<line x1="21.30" y1="244.40" x2="133.30" y2="244.40" stroke="#1a1a1a" stroke-width="1.3"/>
<path d="M21.70,245.00 v2.0 M30.10,245.00 v1.0 M35.01,245.00 v1.0 M38.50,245.00 v1.0 M41.20,245.00 v1.0 M43.41,245.00 v1.0 M45.28,245.00 v1.0 M46.90,245.00 v1.0 M48.32,245.00 v1.0 M49.60,245.00 v2.0 M58.00,245.00 v1.0 M62.91,245.00 v1.0 M66.40,245.00 v1.0 M69.10,245.00 v1.0 M71.31,245.00 v1.0 M73.18,245.00 v1.0 M74.80,245.00 v1.0 M76.22,245.00 v1.0 M77.50,245.00 v2.0 M85.90,245.00 v1.0 M90.81,245.00 v1.0 M94.30,245.00 v1.0 M97.00,245.00 v1.0 M99.21,245.00 v1.0 M101.08,245.00 v1.0 M102.70,245.00 v1.0 M104.12,245.00 v1.0 M105.40,245.00 v2.0 M113.80,245.00 v1.0 M118.71,245.00 v1.0 M122.20,245.00 v1.0 M124.90,245.00 v1.0 M127.11,245.00 v1.0 M128.98,245.00 v1.0 M130.60,245.00 v1.0 M132.02,245.00 v1.0 M133.30,245.00 v2.0" stroke="#666" stroke-width="0.5"/>
<text transform="translate(19.30,243.60) rotate(-90)" font-size="4.6" text-anchor="middle" textLength="3.20" lengthAdjust="spacingAndGlyphs" fill="#555" stroke="#555" stroke-width="0.2">0</text>
<text transform="translate(19.30,230.50) rotate(-90)" font-size="4.6" text-anchor="middle" textLength="6.20" lengthAdjust="spacingAndGlyphs" fill="#555" stroke="#555" stroke-width="0.2">30</text>
<text transform="translate(19.30,218.40) rotate(-90)" font-size="4.6" text-anchor="middle" textLength="6.20" lengthAdjust="spacingAndGlyphs" fill="#555" stroke="#555" stroke-width="0.2">60</text>
<text transform="translate(19.30,205.40) rotate(-90)" font-size="4.6" text-anchor="middle" textLength="6.20" lengthAdjust="spacingAndGlyphs" fill="#555" stroke="#555" stroke-width="0.2">90</text>
<text transform="translate(19.30,190.40) rotate(-90)" font-size="4.6" text-anchor="middle" textLength="9.40" lengthAdjust="spacingAndGlyphs" fill="#555" stroke="#555" stroke-width="0.2">120</text>
<text transform="translate(19.30,177.50) rotate(-90)" font-size="4.6" text-anchor="middle" textLength="9.40" lengthAdjust="spacingAndGlyphs" fill="#555" stroke="#555" stroke-width="0.2">150</text>
<text transform="translate(19.30,164.80) rotate(-90)" font-size="4.6" text-anchor="middle" textLength="9.40" lengthAdjust="spacingAndGlyphs" fill="#555" stroke="#555" stroke-width="0.2">180</text>
<text transform="translate(15.10,206.20) rotate(-90)" font-size="4.8" text-anchor="middle" textLength="19.50" lengthAdjust="spacingAndGlyphs" fill="#666" stroke="#666" stroke-width="0.05">Counts</text>
<text x="19.70" y="254.60" font-size="6.8" textLength="4.3" lengthAdjust="spacingAndGlyphs" fill="#666" stroke="#666" stroke-width="0.25">10</text>
<text x="24.10" y="250.40" font-size="4.8" textLength="2.2" lengthAdjust="spacingAndGlyphs" fill="#666" stroke="#666" stroke-width="0.2">0</text>
<text x="47.60" y="254.60" font-size="6.8" textLength="4.3" lengthAdjust="spacingAndGlyphs" fill="#666" stroke="#666" stroke-width="0.25">10</text>
<text x="52.00" y="250.40" font-size="4.8" textLength="2.2" lengthAdjust="spacingAndGlyphs" fill="#666" stroke="#666" stroke-width="0.2">1</text>
<text x="75.50" y="254.60" font-size="6.8" textLength="4.3" lengthAdjust="spacingAndGlyphs" fill="#666" stroke="#666" stroke-width="0.25">10</text>
<text x="79.90" y="250.40" font-size="4.8" textLength="2.2" lengthAdjust="spacingAndGlyphs" fill="#666" stroke="#666" stroke-width="0.2">2</text>
<text x="103.40" y="254.60" font-size="6.8" textLength="4.3" lengthAdjust="spacingAndGlyphs" fill="#666" stroke="#666" stroke-width="0.25">10</text>
<text x="107.80" y="250.40" font-size="4.8" textLength="2.2" lengthAdjust="spacingAndGlyphs" fill="#666" stroke="#666" stroke-width="0.2">3</text>
<text x="131.30" y="254.60" font-size="6.8" textLength="4.3" lengthAdjust="spacingAndGlyphs" fill="#666" stroke="#666" stroke-width="0.25">10</text>
<text x="135.70" y="250.40" font-size="4.8" textLength="2.2" lengthAdjust="spacingAndGlyphs" fill="#666" stroke="#666" stroke-width="0.2">4</text>
<text x="59.90" y="260.60" font-size="5.2" textLength="35" lengthAdjust="spacingAndGlyphs" fill="#333" stroke="#333" stroke-width="0.25">STAT1-p Alexa-488</text>
<text x="91.80" y="202.10" font-size="7.1" textLength="34.60" lengthAdjust="spacingAndGlyphs" fill="#111" stroke="#111" stroke-width="0.15">sMFI 13.75</text>
<text x="174.50" y="160.50" font-size="8.5" textLength="69.30" lengthAdjust="spacingAndGlyphs" fill="#1a1a1a" stroke="#1a1a1a" stroke-width="0.3">1,000U/mL IFN&#945;2a</text>
<svg x="149.7" y="165.5" width="111.9" height="78.90" viewBox="149.7 165.5 111.9 78.90" overflow="hidden">
<path d="M149.7,244.15 L150.2,244.14 L150.7,244.14 L151.2,244.13 L151.7,244.13 L152.2,244.12 L152.7,244.11 L153.2,244.10 L153.7,244.10 L154.2,244.09 L154.7,244.08 L155.2,244.07 L155.7,244.06 L156.2,244.05 L156.7,244.04 L157.2,244.03 L157.7,244.02 L158.2,244.01 L158.7,244.00 L159.2,243.99 L159.7,243.98 L160.2,243.96 L160.7,243.95 L161.2,243.93 L161.7,243.92 L162.2,243.90 L162.7,243.89 L163.2,243.87 L163.7,243.85 L164.2,243.83 L164.7,243.81 L165.2,243.79 L165.7,243.77 L166.2,243.74 L166.7,243.72 L167.2,243.69 L167.7,243.66 L168.2,243.63 L168.7,243.60 L169.2,243.57 L169.7,243.53 L170.2,243.49 L170.7,243.45 L171.2,243.41 L171.7,243.36 L172.2,243.32 L172.7,243.26 L173.2,243.21 L173.7,243.14 L174.2,243.08 L174.7,243.01 L175.2,242.93 L175.7,242.85 L176.2,242.76 L176.7,242.67 L177.2,242.56 L177.7,242.45 L178.2,242.32 L178.7,242.19 L179.2,242.04 L179.7,241.88 L180.2,241.70 L180.7,241.50 L181.2,241.27 L181.7,241.00 L182.2,240.67 L182.7,240.25 L183.2,239.70 L183.7,238.95 L184.2,237.90 L184.7,236.44 L185.2,234.42 L185.7,231.67 L186.2,228.05 L186.7,223.44 L187.2,217.78 L187.7,211.16 L188.2,203.76 L188.7,195.96 L189.2,188.21 L189.7,181.09 L190.2,175.15 L190.7,170.90 L191.2,168.65 L191.5,168.30 L191.7,168.44 L192.2,170.10 L192.7,173.62 L193.2,178.76 L193.7,185.12 L194.2,192.24 L194.7,199.64 L195.2,206.89 L195.7,213.64 L196.2,219.65 L196.7,224.78 L197.2,229.00 L197.7,232.36 L198.2,234.96 L198.7,236.92 L199.2,238.36 L199.7,239.42 L200.2,240.19 L200.7,240.76 L201.2,241.18 L201.7,241.51 L202.2,241.78 L202.7,241.99 L203.2,242.18 L203.7,242.34 L204.2,242.48 L204.7,242.61 L205.2,242.73 L205.7,242.83 L206.2,242.93 L206.7,243.01 L207.2,243.09 L207.7,243.17 L208.2,243.23 L208.7,243.30 L209.2,243.35 L209.7,243.41 L210.2,243.46 L210.7,243.50 L211.2,243.54 L211.7,243.58 L212.2,243.62 L212.7,243.66 L213.2,243.69 L213.7,243.72 L214.2,243.75 L214.7,243.77 L215.2,243.80 L215.7,243.82 L216.2,243.84 L216.7,243.87 L217.2,243.89 L217.7,243.90 L218.2,243.92 L218.7,243.94 L219.2,243.96 L219.7,243.97 L220.2,243.99 L220.7,244.00 L221.2,244.01 L221.7,244.02 L222.2,244.04 L222.7,244.05 L223.2,244.06 L223.7,244.07 L224.2,244.08 L224.7,244.09 L225.2,244.10 L225.7,244.11 L226.2,244.11 L226.7,244.12 L227.2,244.13 L227.7,244.14 L228.2,244.14 L228.7,244.15 L229.2,244.16 L229.7,244.16 L230.2,244.17 L230.7,244.17 L231.2,244.18 L231.7,244.19 L232.2,244.19 L232.7,244.20 L233.2,244.20 L233.7,244.21 L234.2,244.21 L234.7,244.21 L235.2,244.22 L235.7,244.22 L236.2,244.23 L236.7,244.23 L237.2,244.23 L237.7,244.24 L238.2,244.24 L238.7,244.24 L239.2,244.25 L239.7,244.25 L240.2,244.25 L240.7,244.26 L241.2,244.26 L241.7,244.26 L242.2,244.26 L242.7,244.27 L243.2,244.27 L243.7,244.27 L244.2,244.27 L244.7,244.28 L245.2,244.28 L245.7,244.28 L246.2,244.28 L246.7,244.29 L247.2,244.29 L247.7,244.29 L248.2,244.29 L248.7,244.29 L249.2,244.30 L249.7,244.30 L250.2,244.30 L250.7,244.30 L251.2,244.30 L251.7,244.30 L252.2,244.31 L252.7,244.31 L253.2,244.31 L253.7,244.31 L254.2,244.31 L254.7,244.31 L255.2,244.31 L255.7,244.32 L256.2,244.32 L256.7,244.32 L257.2,244.32 L257.7,244.32 L258.2,244.32 L258.7,244.32 L259.2,244.32 L259.7,244.32 L260.2,244.33 L260.7,244.33 L261.2,244.33 L261.6,247.4 L149.7,247.4 Z" fill="#cdcdcd" stroke="#333" stroke-width="0.9"/>
<path d="M149.7,243.89 L150.2,243.89 L150.7,243.88 L151.2,243.88 L151.7,243.87 L152.2,243.86 L152.7,243.86 L153.2,243.85 L153.7,243.84 L154.2,243.84 L154.7,243.83 L155.2,243.82 L155.7,243.81 L156.2,243.81 L156.7,243.80 L157.2,243.79 L157.7,243.79 L158.2,243.78 L158.7,243.77 L159.2,243.76 L159.7,243.76 L160.2,243.75 L160.7,243.74 L161.2,243.73 L161.7,243.73 L162.2,243.72 L162.7,243.71 L163.2,243.70 L163.7,243.70 L164.2,243.69 L164.7,243.68 L165.2,243.67 L165.7,243.66 L166.2,243.65 L166.7,243.64 L167.2,243.63 L167.7,243.61 L168.2,243.59 L168.7,243.57 L169.2,243.54 L169.7,243.51 L170.2,243.46 L170.7,243.41 L171.2,243.33 L171.7,243.24 L172.2,243.12 L172.7,242.96 L173.2,242.75 L173.7,242.50 L174.2,242.17 L174.7,241.75 L175.2,241.23 L175.7,240.59 L176.2,239.80 L176.7,238.82 L177.2,237.64 L177.7,236.23 L178.2,234.54 L178.7,232.55 L179.2,230.23 L179.7,227.56 L180.2,224.52 L180.7,221.10 L181.2,217.32 L181.7,213.20 L182.2,208.80 L182.7,204.19 L183.2,199.50 L183.7,194.87 L184.2,190.51 L184.7,186.68 L185.2,183.77 L185.6,182.60 L185.7,182.79 L186.2,185.69 L186.7,190.30 L187.2,195.78 L187.7,201.61 L188.2,207.44 L188.7,212.99 L189.2,218.11 L189.7,222.69 L190.2,226.69 L190.7,230.11 L191.2,232.97 L191.7,235.33 L192.2,237.25 L192.7,238.77 L193.2,239.97 L193.7,240.90 L194.2,241.61 L194.7,242.15 L195.2,242.55 L195.7,242.85 L196.2,243.07 L196.7,243.23 L197.2,243.35 L197.7,243.43 L198.2,243.50 L198.7,243.54 L199.2,243.58 L199.7,243.60 L200.2,243.62 L200.7,243.64 L201.2,243.65 L201.7,243.67 L202.2,243.68 L202.7,243.69 L203.2,243.70 L203.7,243.71 L204.2,243.72 L204.7,243.73 L205.2,243.74 L205.7,243.75 L206.2,243.75 L206.7,243.76 L207.2,243.77 L207.7,243.78 L208.2,243.79 L208.7,243.80 L209.2,243.81 L209.7,243.82 L210.2,243.83 L210.7,243.84 L211.2,243.84 L211.7,243.85 L212.2,243.86 L212.7,243.87 L213.2,243.88 L213.7,243.88 L214.2,243.89 L214.7,243.90 L215.2,243.91 L215.7,243.92 L216.2,243.92 L216.7,243.93 L217.2,243.94 L217.7,243.95 L218.2,243.95 L218.7,243.96 L219.2,243.97 L219.7,243.97 L220.2,243.98 L220.7,243.99 L221.2,243.99 L221.7,244.00 L222.2,244.00 L222.7,244.01 L223.2,244.02 L223.7,244.02 L224.2,244.03 L224.7,244.03 L225.2,244.04 L225.7,244.05 L226.2,244.05 L226.7,244.06 L227.2,244.06 L227.7,244.07 L228.2,244.07 L228.7,244.08 L229.2,244.08 L229.7,244.09 L230.2,244.09 L230.7,244.09 L231.2,244.10 L231.7,244.10 L232.2,244.11 L232.7,244.11 L233.2,244.12 L233.7,244.12 L234.2,244.12 L234.7,244.13 L235.2,244.13 L235.7,244.14 L236.2,244.14 L236.7,244.14 L237.2,244.15 L237.7,244.15 L238.2,244.15 L238.7,244.16 L239.2,244.16 L239.7,244.16 L240.2,244.17 L240.7,244.17 L241.2,244.17 L241.7,244.18 L242.2,244.18 L242.7,244.18 L243.2,244.18 L243.7,244.19 L244.2,244.19 L244.7,244.19 L245.2,244.20 L245.7,244.20 L246.2,244.20 L246.7,244.20 L247.2,244.21 L247.7,244.21 L248.2,244.21 L248.7,244.21 L249.2,244.22 L249.7,244.22 L250.2,244.22 L250.7,244.22 L251.2,244.22 L251.7,244.23 L252.2,244.23 L252.7,244.23 L253.2,244.23 L253.7,244.23 L254.2,244.24 L254.7,244.24 L255.2,244.24 L255.7,244.24 L256.2,244.24 L256.7,244.25 L257.2,244.25 L257.7,244.25 L258.2,244.25 L258.7,244.25 L259.2,244.25 L259.7,244.26 L260.2,244.26 L260.7,244.26 L261.2,244.26" fill="none" stroke="#7a7a7a" stroke-width="1.0" stroke-dasharray="2.6,2.2"/>
</svg>
<line x1="149.70" y1="165.50" x2="261.60" y2="165.50" stroke="#3a3a3a" stroke-width="1"/>
<line x1="261.60" y1="165.50" x2="261.60" y2="244.40" stroke="#777" stroke-width="1"/>
<line x1="149.70" y1="165.50" x2="149.70" y2="244.40" stroke="#888" stroke-width="0.8"/>
<path d="M150.00,244.40 h-2.0 M150.00,241.79 h-1.3 M150.00,239.17 h-1.3 M150.00,236.56 h-1.3 M150.00,233.95 h-1.3 M150.00,231.33 h-2.0 M150.00,228.72 h-1.3 M150.00,226.11 h-1.3 M150.00,223.49 h-1.3 M150.00,220.88 h-1.3 M150.00,218.27 h-2.0 M150.00,215.65 h-1.3 M150.00,213.04 h-1.3 M150.00,210.43 h-1.3 M150.00,207.81 h-1.3 M150.00,205.20 h-2.0 M150.00,202.59 h-1.3 M150.00,199.97 h-1.3 M150.00,197.36 h-1.3 M150.00,194.75 h-1.3 M150.00,192.13 h-2.0 M150.00,189.52 h-1.3 M150.00,186.91 h-1.3 M150.00,184.29 h-1.3 M150.00,181.68 h-1.3 M150.00,179.07 h-2.0 M150.00,176.45 h-1.3 M150.00,173.84 h-1.3 M150.00,171.23 h-1.3 M150.00,168.61 h-1.3 M150.00,166.00 h-2.0" stroke="#333" stroke-width="0.9"/>
<line x1="149.30" y1="244.40" x2="261.60" y2="244.40" stroke="#1a1a1a" stroke-width="1.3"/>
<path d="M149.70,245.00 v2.0 M158.12,245.00 v1.0 M163.05,245.00 v1.0 M166.54,245.00 v1.0 M169.25,245.00 v1.0 M171.47,245.00 v1.0 M173.34,245.00 v1.0 M174.96,245.00 v1.0 M176.39,245.00 v1.0 M177.67,245.00 v2.0 M186.10,245.00 v1.0 M191.02,245.00 v1.0 M194.52,245.00 v1.0 M197.23,245.00 v1.0 M199.44,245.00 v1.0 M201.32,245.00 v1.0 M202.94,245.00 v1.0 M204.37,245.00 v1.0 M205.65,245.00 v2.0 M214.07,245.00 v1.0 M219.00,245.00 v1.0 M222.49,245.00 v1.0 M225.20,245.00 v1.0 M227.42,245.00 v1.0 M229.29,245.00 v1.0 M230.91,245.00 v1.0 M232.34,245.00 v1.0 M233.62,245.00 v2.0 M242.05,245.00 v1.0 M246.97,245.00 v1.0 M250.47,245.00 v1.0 M253.18,245.00 v1.0 M255.39,245.00 v1.0 M257.27,245.00 v1.0 M258.89,245.00 v1.0 M260.32,245.00 v1.0 M261.60,245.00 v2.0" stroke="#666" stroke-width="0.5"/>
<text transform="translate(147.30,243.60) rotate(-90)" font-size="4.6" text-anchor="middle" textLength="3.20" lengthAdjust="spacingAndGlyphs" fill="#555" stroke="#555" stroke-width="0.2">0</text>
<text transform="translate(147.30,230.50) rotate(-90)" font-size="4.6" text-anchor="middle" textLength="6.20" lengthAdjust="spacingAndGlyphs" fill="#555" stroke="#555" stroke-width="0.2">30</text>
<text transform="translate(147.30,218.40) rotate(-90)" font-size="4.6" text-anchor="middle" textLength="6.20" lengthAdjust="spacingAndGlyphs" fill="#555" stroke="#555" stroke-width="0.2">60</text>
<text transform="translate(147.30,205.40) rotate(-90)" font-size="4.6" text-anchor="middle" textLength="6.20" lengthAdjust="spacingAndGlyphs" fill="#555" stroke="#555" stroke-width="0.2">90</text>
<text transform="translate(147.30,190.40) rotate(-90)" font-size="4.6" text-anchor="middle" textLength="9.40" lengthAdjust="spacingAndGlyphs" fill="#555" stroke="#555" stroke-width="0.2">120</text>
<text transform="translate(147.30,177.50) rotate(-90)" font-size="4.6" text-anchor="middle" textLength="9.40" lengthAdjust="spacingAndGlyphs" fill="#555" stroke="#555" stroke-width="0.2">150</text>
<text transform="translate(147.30,164.80) rotate(-90)" font-size="4.6" text-anchor="middle" textLength="9.40" lengthAdjust="spacingAndGlyphs" fill="#555" stroke="#555" stroke-width="0.2">180</text>
<text transform="translate(143.10,206.20) rotate(-90)" font-size="4.8" text-anchor="middle" textLength="19.50" lengthAdjust="spacingAndGlyphs" fill="#666" stroke="#666" stroke-width="0.05">Counts</text>
<text x="147.70" y="254.60" font-size="6.8" textLength="4.3" lengthAdjust="spacingAndGlyphs" fill="#666" stroke="#666" stroke-width="0.25">10</text>
<text x="152.10" y="250.40" font-size="4.8" textLength="2.2" lengthAdjust="spacingAndGlyphs" fill="#666" stroke="#666" stroke-width="0.2">0</text>
<text x="175.67" y="254.60" font-size="6.8" textLength="4.3" lengthAdjust="spacingAndGlyphs" fill="#666" stroke="#666" stroke-width="0.25">10</text>
<text x="180.07" y="250.40" font-size="4.8" textLength="2.2" lengthAdjust="spacingAndGlyphs" fill="#666" stroke="#666" stroke-width="0.2">1</text>
<text x="203.65" y="254.60" font-size="6.8" textLength="4.3" lengthAdjust="spacingAndGlyphs" fill="#666" stroke="#666" stroke-width="0.25">10</text>
<text x="208.05" y="250.40" font-size="4.8" textLength="2.2" lengthAdjust="spacingAndGlyphs" fill="#666" stroke="#666" stroke-width="0.2">2</text>
<text x="231.62" y="254.60" font-size="6.8" textLength="4.3" lengthAdjust="spacingAndGlyphs" fill="#666" stroke="#666" stroke-width="0.25">10</text>
<text x="236.03" y="250.40" font-size="4.8" textLength="2.2" lengthAdjust="spacingAndGlyphs" fill="#666" stroke="#666" stroke-width="0.2">3</text>
<text x="259.60" y="254.60" font-size="6.8" textLength="4.3" lengthAdjust="spacingAndGlyphs" fill="#666" stroke="#666" stroke-width="0.25">10</text>
<text x="264.00" y="250.40" font-size="4.8" textLength="2.2" lengthAdjust="spacingAndGlyphs" fill="#666" stroke="#666" stroke-width="0.2">4</text>
<text x="187.90" y="260.60" font-size="5.2" textLength="35" lengthAdjust="spacingAndGlyphs" fill="#333" stroke="#333" stroke-width="0.25">STAT1-p Alexa-488</text>
<text x="217.70" y="204.40" font-size="7.1" textLength="34.60" lengthAdjust="spacingAndGlyphs" fill="#111" stroke="#111" stroke-width="0.15">sMFI 14.48</text>
<text x="305.40" y="160.50" font-size="8.5" textLength="69.20" lengthAdjust="spacingAndGlyphs" fill="#1a1a1a" stroke="#1a1a1a" stroke-width="0.3">3,000U/mL IFN&#945;2a</text>
<svg x="277.7" y="165.5" width="111.1" height="78.90" viewBox="277.7 165.5 111.1 78.90" overflow="hidden">
<path d="M277.7,244.28 L278.2,244.28 L278.7,244.28 L279.2,244.27 L279.7,244.27 L280.2,244.27 L280.7,244.27 L281.2,244.26 L281.7,244.26 L282.2,244.25 L282.7,244.25 L283.2,244.25 L283.7,244.24 L284.2,244.24 L284.7,244.23 L285.2,244.23 L285.7,244.22 L286.2,244.22 L286.7,244.21 L287.2,244.21 L287.7,244.20 L288.2,244.20 L288.7,244.19 L289.2,244.18 L289.7,244.18 L290.2,244.17 L290.7,244.16 L291.2,244.15 L291.7,244.15 L292.2,244.14 L292.7,244.13 L293.2,244.12 L293.7,244.11 L294.2,244.10 L294.7,244.09 L295.2,244.07 L295.7,244.06 L296.2,244.05 L296.7,244.03 L297.2,244.02 L297.7,244.00 L298.2,243.98 L298.7,243.97 L299.2,243.95 L299.7,243.92 L300.2,243.90 L300.7,243.88 L301.2,243.85 L301.7,243.82 L302.2,243.79 L302.7,243.76 L303.2,243.72 L303.7,243.68 L304.2,243.64 L304.7,243.60 L305.2,243.55 L305.7,243.49 L306.2,243.43 L306.7,243.37 L307.2,243.29 L307.7,243.21 L308.2,243.12 L308.7,243.02 L309.2,242.90 L309.7,242.78 L310.2,242.63 L310.7,242.47 L311.2,242.28 L311.7,242.06 L312.2,241.81 L312.7,241.52 L313.2,241.16 L313.7,240.72 L314.2,240.13 L314.7,239.28 L315.2,237.96 L315.7,235.88 L316.2,232.72 L316.7,228.19 L317.2,222.21 L317.7,214.94 L318.2,206.77 L318.7,198.24 L319.2,189.87 L319.7,182.20 L320.2,175.90 L320.7,171.91 L321.1,170.90 L321.2,170.91 L321.7,171.42 L322.2,172.69 L322.7,174.65 L323.2,177.20 L323.7,180.23 L324.2,183.62 L324.7,187.27 L325.2,191.10 L325.7,195.04 L326.2,199.04 L326.7,203.03 L327.2,206.98 L327.7,210.83 L328.2,214.53 L328.7,218.04 L329.2,221.31 L329.7,224.33 L330.2,227.06 L330.7,229.49 L331.2,231.63 L331.7,233.48 L332.2,235.06 L332.7,236.38 L333.2,237.48 L333.7,238.38 L334.2,239.12 L334.7,239.72 L335.2,240.20 L335.7,240.60 L336.2,240.92 L336.7,241.19 L337.2,241.42 L337.7,241.61 L338.2,241.78 L338.7,241.92 L339.2,242.06 L339.7,242.18 L340.2,242.29 L340.7,242.39 L341.2,242.48 L341.7,242.57 L342.2,242.65 L342.7,242.73 L343.2,242.80 L343.7,242.87 L344.2,242.93 L344.7,242.99 L345.2,243.04 L345.7,243.10 L346.2,243.14 L346.7,243.19 L347.2,243.24 L347.7,243.28 L348.2,243.32 L348.7,243.35 L349.2,243.39 L349.7,243.42 L350.2,243.46 L350.7,243.49 L351.2,243.52 L351.7,243.54 L352.2,243.57 L352.7,243.60 L353.2,243.62 L353.7,243.64 L354.2,243.67 L354.7,243.69 L355.2,243.71 L355.7,243.73 L356.2,243.75 L356.7,243.76 L357.2,243.78 L357.7,243.80 L358.2,243.81 L358.7,243.83 L359.2,243.84 L359.7,243.86 L360.2,243.87 L360.7,243.88 L361.2,243.90 L361.7,243.91 L362.2,243.92 L362.7,243.93 L363.2,243.94 L363.7,243.95 L364.2,243.96 L364.7,243.97 L365.2,243.98 L365.7,243.99 L366.2,244.00 L366.7,244.01 L367.2,244.02 L367.7,244.03 L368.2,244.03 L368.7,244.04 L369.2,244.05 L369.7,244.06 L370.2,244.06 L370.7,244.07 L371.2,244.08 L371.7,244.08 L372.2,244.09 L372.7,244.09 L373.2,244.10 L373.7,244.11 L374.2,244.11 L374.7,244.12 L375.2,244.12 L375.7,244.13 L376.2,244.13 L376.7,244.14 L377.2,244.14 L377.7,244.15 L378.2,244.15 L378.7,244.15 L379.2,244.16 L379.7,244.16 L380.2,244.17 L380.7,244.17 L381.2,244.17 L381.7,244.18 L382.2,244.18 L382.7,244.18 L383.2,244.19 L383.7,244.19 L384.2,244.19 L384.7,244.20 L385.2,244.20 L385.7,244.20 L386.2,244.21 L386.7,244.21 L387.2,244.21 L387.7,244.22 L388.2,244.22 L388.7,244.22 L388.8,247.4 L277.7,247.4 Z" fill="#cdcdcd" stroke="#333" stroke-width="0.9"/>
<path d="M277.7,244.17 L278.2,244.17 L278.7,244.16 L279.2,244.15 L279.7,244.14 L280.2,244.13 L280.7,244.13 L281.2,244.12 L281.7,244.11 L282.2,244.10 L282.7,244.09 L283.2,244.07 L283.7,244.06 L284.2,244.05 L284.7,244.04 L285.2,244.02 L285.7,244.01 L286.2,243.99 L286.7,243.97 L287.2,243.96 L287.7,243.94 L288.2,243.92 L288.7,243.89 L289.2,243.87 L289.7,243.85 L290.2,243.82 L290.7,243.79 L291.2,243.76 L291.7,243.73 L292.2,243.69 L292.7,243.65 L293.2,243.61 L293.7,243.56 L294.2,243.51 L294.7,243.46 L295.2,243.40 L295.7,243.33 L296.2,243.26 L296.7,243.18 L297.2,243.09 L297.7,242.99 L298.2,242.88 L298.7,242.76 L299.2,242.62 L299.7,242.45 L300.2,242.26 L300.7,242.03 L301.2,241.73 L301.7,241.33 L302.2,240.80 L302.7,240.06 L303.2,239.05 L303.7,237.68 L304.2,235.87 L304.7,233.55 L305.2,230.68 L305.7,227.25 L306.2,223.30 L306.7,218.90 L307.2,214.12 L307.7,209.07 L308.2,203.82 L308.7,198.51 L309.2,193.37 L309.7,188.88 L310.2,185.72 L310.7,184.60 L311.2,185.98 L311.7,188.57 L312.2,191.03 L312.7,193.46 L313.2,196.28 L313.7,199.74 L314.2,203.94 L314.7,208.80 L315.2,214.13 L315.7,219.65 L316.2,225.02 L316.7,229.94 L317.2,234.14 L317.7,237.51 L318.2,240.03 L318.7,241.78 L319.2,242.91 L319.7,243.58 L320.2,243.96 L320.7,244.15 L321.2,244.24 L321.7,244.28 L322.2,244.30 L322.7,244.32 L323.2,244.32 L323.7,244.33 L324.2,244.33 L324.7,244.34 L325.2,244.34 L325.7,244.35 L326.2,244.35 L326.7,244.35 L327.2,244.36 L327.7,244.36 L328.2,244.36 L328.7,244.36 L329.2,244.36 L329.7,244.37 L330.2,244.37 L330.7,244.37 L331.2,244.37 L331.7,244.37 L332.2,244.37 L332.7,244.38 L333.2,244.38 L333.7,244.38 L334.2,244.38 L334.7,244.38 L335.2,244.38 L335.7,244.38 L336.2,244.38 L336.7,244.38 L337.2,244.38 L337.7,244.38 L338.2,244.38 L338.7,244.38 L339.2,244.39 L339.7,244.39 L340.2,244.39 L340.7,244.39 L341.2,244.39 L341.7,244.39 L342.2,244.39 L342.7,244.39 L343.2,244.39 L343.7,244.39 L344.2,244.39 L344.7,244.39 L345.2,244.39 L345.7,244.39 L346.2,244.39 L346.7,244.39 L347.2,244.39 L347.7,244.39 L348.2,244.39 L348.7,244.39 L349.2,244.39 L349.7,244.39 L350.2,244.39 L350.7,244.39 L351.2,244.39 L351.7,244.39 L352.2,244.39 L352.7,244.39 L353.2,244.39 L353.7,244.39 L354.2,244.39 L354.7,244.39 L355.2,244.39 L355.7,244.39 L356.2,244.39 L356.7,244.39 L357.2,244.39 L357.7,244.39 L358.2,244.39 L358.7,244.39 L359.2,244.39 L359.7,244.39 L360.2,244.40 L360.7,244.40 L361.2,244.40 L361.7,244.40 L362.2,244.40 L362.7,244.40 L363.2,244.40 L363.7,244.40 L364.2,244.40 L364.7,244.40 L365.2,244.40 L365.7,244.40 L366.2,244.40 L366.7,244.40 L367.2,244.40 L367.7,244.40 L368.2,244.40 L368.7,244.40 L369.2,244.40 L369.7,244.40 L370.2,244.40 L370.7,244.40 L371.2,244.40 L371.7,244.40 L372.2,244.40 L372.7,244.40 L373.2,244.40 L373.7,244.40 L374.2,244.40 L374.7,244.40 L375.2,244.40 L375.7,244.40 L376.2,244.40 L376.7,244.40 L377.2,244.40 L377.7,244.40 L378.2,244.40 L378.7,244.40 L379.2,244.40 L379.7,244.40 L380.2,244.40 L380.7,244.40 L381.2,244.40 L381.7,244.40 L382.2,244.40 L382.7,244.40 L383.2,244.40 L383.7,244.40 L384.2,244.40 L384.7,244.40 L385.2,244.40 L385.7,244.40 L386.2,244.40 L386.7,244.40 L387.2,244.40 L387.7,244.40 L388.2,244.40 L388.7,244.40" fill="none" stroke="#7a7a7a" stroke-width="1.0" stroke-dasharray="2.6,2.2"/>
</svg>
<line x1="277.70" y1="165.50" x2="388.80" y2="165.50" stroke="#3a3a3a" stroke-width="1"/>
<line x1="388.80" y1="165.50" x2="388.80" y2="244.40" stroke="#777" stroke-width="1"/>
<line x1="277.70" y1="165.50" x2="277.70" y2="244.40" stroke="#888" stroke-width="0.8"/>
<path d="M278.00,244.40 h-2.0 M278.00,241.79 h-1.3 M278.00,239.17 h-1.3 M278.00,236.56 h-1.3 M278.00,233.95 h-1.3 M278.00,231.33 h-2.0 M278.00,228.72 h-1.3 M278.00,226.11 h-1.3 M278.00,223.49 h-1.3 M278.00,220.88 h-1.3 M278.00,218.27 h-2.0 M278.00,215.65 h-1.3 M278.00,213.04 h-1.3 M278.00,210.43 h-1.3 M278.00,207.81 h-1.3 M278.00,205.20 h-2.0 M278.00,202.59 h-1.3 M278.00,199.97 h-1.3 M278.00,197.36 h-1.3 M278.00,194.75 h-1.3 M278.00,192.13 h-2.0 M278.00,189.52 h-1.3 M278.00,186.91 h-1.3 M278.00,184.29 h-1.3 M278.00,181.68 h-1.3 M278.00,179.07 h-2.0 M278.00,176.45 h-1.3 M278.00,173.84 h-1.3 M278.00,171.23 h-1.3 M278.00,168.61 h-1.3 M278.00,166.00 h-2.0" stroke="#333" stroke-width="0.9"/>
<line x1="277.30" y1="244.40" x2="388.80" y2="244.40" stroke="#1a1a1a" stroke-width="1.3"/>
<path d="M277.70,245.00 v2.0 M286.06,245.00 v1.0 M290.95,245.00 v1.0 M294.42,245.00 v1.0 M297.11,245.00 v1.0 M299.31,245.00 v1.0 M301.17,245.00 v1.0 M302.78,245.00 v1.0 M304.20,245.00 v1.0 M305.47,245.00 v2.0 M313.84,245.00 v1.0 M318.73,245.00 v1.0 M322.20,245.00 v1.0 M324.89,245.00 v1.0 M327.09,245.00 v1.0 M328.95,245.00 v1.0 M330.56,245.00 v1.0 M331.98,245.00 v1.0 M333.25,245.00 v2.0 M341.61,245.00 v1.0 M346.50,245.00 v1.0 M349.97,245.00 v1.0 M352.66,245.00 v1.0 M354.86,245.00 v1.0 M356.72,245.00 v1.0 M358.33,245.00 v1.0 M359.75,245.00 v1.0 M361.02,245.00 v2.0 M369.39,245.00 v1.0 M374.28,245.00 v1.0 M377.75,245.00 v1.0 M380.44,245.00 v1.0 M382.64,245.00 v1.0 M384.50,245.00 v1.0 M386.11,245.00 v1.0 M387.53,245.00 v1.0 M388.80,245.00 v2.0" stroke="#666" stroke-width="0.5"/>
<text transform="translate(275.30,243.60) rotate(-90)" font-size="4.6" text-anchor="middle" textLength="3.20" lengthAdjust="spacingAndGlyphs" fill="#555" stroke="#555" stroke-width="0.2">0</text>
<text transform="translate(275.30,230.50) rotate(-90)" font-size="4.6" text-anchor="middle" textLength="6.20" lengthAdjust="spacingAndGlyphs" fill="#555" stroke="#555" stroke-width="0.2">30</text>
<text transform="translate(275.30,218.40) rotate(-90)" font-size="4.6" text-anchor="middle" textLength="6.20" lengthAdjust="spacingAndGlyphs" fill="#555" stroke="#555" stroke-width="0.2">60</text>
<text transform="translate(275.30,205.40) rotate(-90)" font-size="4.6" text-anchor="middle" textLength="6.20" lengthAdjust="spacingAndGlyphs" fill="#555" stroke="#555" stroke-width="0.2">90</text>
<text transform="translate(275.30,190.40) rotate(-90)" font-size="4.6" text-anchor="middle" textLength="9.40" lengthAdjust="spacingAndGlyphs" fill="#555" stroke="#555" stroke-width="0.2">120</text>
<text transform="translate(275.30,177.50) rotate(-90)" font-size="4.6" text-anchor="middle" textLength="9.40" lengthAdjust="spacingAndGlyphs" fill="#555" stroke="#555" stroke-width="0.2">150</text>
<text transform="translate(275.30,164.80) rotate(-90)" font-size="4.6" text-anchor="middle" textLength="9.40" lengthAdjust="spacingAndGlyphs" fill="#555" stroke="#555" stroke-width="0.2">180</text>
<text transform="translate(271.10,206.20) rotate(-90)" font-size="4.8" text-anchor="middle" textLength="19.50" lengthAdjust="spacingAndGlyphs" fill="#666" stroke="#666" stroke-width="0.05">Counts</text>
<text x="275.70" y="254.60" font-size="6.8" textLength="4.3" lengthAdjust="spacingAndGlyphs" fill="#666" stroke="#666" stroke-width="0.25">10</text>
<text x="280.10" y="250.40" font-size="4.8" textLength="2.2" lengthAdjust="spacingAndGlyphs" fill="#666" stroke="#666" stroke-width="0.2">0</text>
<text x="303.47" y="254.60" font-size="6.8" textLength="4.3" lengthAdjust="spacingAndGlyphs" fill="#666" stroke="#666" stroke-width="0.25">10</text>
<text x="307.87" y="250.40" font-size="4.8" textLength="2.2" lengthAdjust="spacingAndGlyphs" fill="#666" stroke="#666" stroke-width="0.2">1</text>
<text x="331.25" y="254.60" font-size="6.8" textLength="4.3" lengthAdjust="spacingAndGlyphs" fill="#666" stroke="#666" stroke-width="0.25">10</text>
<text x="335.65" y="250.40" font-size="4.8" textLength="2.2" lengthAdjust="spacingAndGlyphs" fill="#666" stroke="#666" stroke-width="0.2">2</text>
<text x="359.02" y="254.60" font-size="6.8" textLength="4.3" lengthAdjust="spacingAndGlyphs" fill="#666" stroke="#666" stroke-width="0.25">10</text>
<text x="363.42" y="250.40" font-size="4.8" textLength="2.2" lengthAdjust="spacingAndGlyphs" fill="#666" stroke="#666" stroke-width="0.2">3</text>
<text x="386.80" y="254.60" font-size="6.8" textLength="4.3" lengthAdjust="spacingAndGlyphs" fill="#666" stroke="#666" stroke-width="0.25">10</text>
<text x="391.20" y="250.40" font-size="4.8" textLength="2.2" lengthAdjust="spacingAndGlyphs" fill="#666" stroke="#666" stroke-width="0.2">4</text>
<text x="315.90" y="260.60" font-size="5.2" textLength="35" lengthAdjust="spacingAndGlyphs" fill="#333" stroke="#333" stroke-width="0.25">STAT1-p Alexa-488</text>
<text x="346.70" y="205.50" font-size="7.1" textLength="34.60" lengthAdjust="spacingAndGlyphs" fill="#111" stroke="#111" stroke-width="0.15">sMFI 15.94</text>
<text x="425.60" y="160.50" font-size="8.5" textLength="74.00" lengthAdjust="spacingAndGlyphs" fill="#1a1a1a" stroke="#1a1a1a" stroke-width="0.3">10,000U/mL IFN&#945;2a</text>
<svg x="406.0" y="165.5" width="111.3" height="78.90" viewBox="406.0 165.5 111.3 78.90" overflow="hidden">
<path d="M406.0,244.30 L406.5,244.30 L407.0,244.30 L407.5,244.30 L408.0,244.29 L408.5,244.29 L409.0,244.29 L409.5,244.29 L410.0,244.28 L410.5,244.28 L411.0,244.28 L411.5,244.28 L412.0,244.27 L412.5,244.27 L413.0,244.27 L413.5,244.26 L414.0,244.26 L414.5,244.25 L415.0,244.25 L415.5,244.25 L416.0,244.24 L416.5,244.24 L417.0,244.23 L417.5,244.23 L418.0,244.22 L418.5,244.22 L419.0,244.21 L419.5,244.21 L420.0,244.20 L420.5,244.20 L421.0,244.19 L421.5,244.18 L422.0,244.17 L422.5,244.17 L423.0,244.16 L423.5,244.15 L424.0,244.14 L424.5,244.13 L425.0,244.12 L425.5,244.11 L426.0,244.10 L426.5,244.09 L427.0,244.08 L427.5,244.06 L428.0,244.05 L428.5,244.04 L429.0,244.02 L429.5,244.00 L430.0,243.98 L430.5,243.97 L431.0,243.95 L431.5,243.92 L432.0,243.90 L432.5,243.87 L433.0,243.85 L433.5,243.82 L434.0,243.79 L434.5,243.75 L435.0,243.71 L435.5,243.67 L436.0,243.63 L436.5,243.58 L437.0,243.53 L437.5,243.47 L438.0,243.40 L438.5,243.33 L439.0,243.25 L439.5,243.16 L440.0,243.06 L440.5,242.94 L441.0,242.80 L441.5,242.62 L442.0,242.38 L442.5,242.05 L443.0,241.60 L443.5,240.97 L444.0,240.13 L444.5,239.02 L445.0,237.63 L445.5,235.93 L446.0,233.95 L446.5,231.73 L447.0,229.31 L447.5,226.73 L448.0,224.05 L448.5,221.26 L449.0,218.38 L449.5,215.36 L450.0,212.24 L450.5,209.09 L451.0,206.17 L451.5,203.95 L452.0,202.93 L452.1,202.90 L452.5,203.05 L453.0,203.64 L453.5,204.61 L454.0,205.87 L454.5,207.31 L455.0,208.84 L455.5,210.38 L456.0,211.89 L456.5,213.34 L457.0,214.72 L457.5,216.03 L458.0,217.27 L458.5,218.46 L459.0,219.60 L459.5,220.71 L460.0,221.80 L460.5,222.88 L461.0,223.94 L461.5,225.00 L462.0,226.06 L462.5,227.11 L463.0,228.17 L463.5,229.21 L464.0,230.25 L464.5,231.27 L465.0,232.28 L465.5,233.26 L466.0,234.21 L466.5,235.12 L467.0,236.00 L467.5,236.83 L468.0,237.60 L468.5,238.33 L469.0,239.00 L469.5,239.62 L470.0,240.18 L470.5,240.68 L471.0,241.13 L471.5,241.53 L472.0,241.88 L472.5,242.19 L473.0,242.45 L473.5,242.67 L474.0,242.87 L474.5,243.03 L475.0,243.16 L475.5,243.28 L476.0,243.37 L476.5,243.45 L477.0,243.52 L477.5,243.58 L478.0,243.63 L478.5,243.67 L479.0,243.70 L479.5,243.73 L480.0,243.76 L480.5,243.79 L481.0,243.81 L481.5,243.83 L482.0,243.85 L482.5,243.87 L483.0,243.89 L483.5,243.90 L484.0,243.92 L484.5,243.93 L485.0,243.95 L485.5,243.96 L486.0,243.97 L486.5,243.98 L487.0,244.00 L487.5,244.01 L488.0,244.02 L488.5,244.03 L489.0,244.04 L489.5,244.05 L490.0,244.06 L490.5,244.06 L491.0,244.07 L491.5,244.08 L492.0,244.09 L492.5,244.10 L493.0,244.10 L493.5,244.11 L494.0,244.12 L494.5,244.12 L495.0,244.13 L495.5,244.14 L496.0,244.14 L496.5,244.15 L497.0,244.15 L497.5,244.16 L498.0,244.16 L498.5,244.17 L499.0,244.17 L499.5,244.18 L500.0,244.18 L500.5,244.19 L501.0,244.19 L501.5,244.20 L502.0,244.20 L502.5,244.20 L503.0,244.21 L503.5,244.21 L504.0,244.22 L504.5,244.22 L505.0,244.22 L505.5,244.23 L506.0,244.23 L506.5,244.23 L507.0,244.23 L507.5,244.24 L508.0,244.24 L508.5,244.24 L509.0,244.25 L509.5,244.25 L510.0,244.25 L510.5,244.25 L511.0,244.26 L511.5,244.26 L512.0,244.26 L512.5,244.26 L513.0,244.27 L513.5,244.27 L514.0,244.27 L514.5,244.27 L515.0,244.27 L515.5,244.28 L516.0,244.28 L516.5,244.28 L517.0,244.28 L517.3,247.4 L406.0,247.4 Z" fill="#cdcdcd" stroke="#333" stroke-width="0.9"/>
<path d="M406.0,244.40 L406.5,244.39 L407.0,244.39 L407.5,244.39 L408.0,244.39 L408.5,244.39 L409.0,244.39 L409.5,244.39 L410.0,244.39 L410.5,244.39 L411.0,244.39 L411.5,244.39 L412.0,244.39 L412.5,244.39 L413.0,244.39 L413.5,244.39 L414.0,244.39 L414.5,244.39 L415.0,244.39 L415.5,244.39 L416.0,244.39 L416.5,244.39 L417.0,244.39 L417.5,244.39 L418.0,244.39 L418.5,244.39 L419.0,244.38 L419.5,244.38 L420.0,244.38 L420.5,244.38 L421.0,244.37 L421.5,244.36 L422.0,244.35 L422.5,244.34 L423.0,244.32 L423.5,244.30 L424.0,244.27 L424.5,244.22 L425.0,244.16 L425.5,244.09 L426.0,243.98 L426.5,243.85 L427.0,243.67 L427.5,243.44 L428.0,243.14 L428.5,242.77 L429.0,242.29 L429.5,241.70 L430.0,240.96 L430.5,240.04 L431.0,238.93 L431.5,237.59 L432.0,235.98 L432.5,234.08 L433.0,231.85 L433.5,229.27 L434.0,226.33 L434.5,223.00 L435.0,219.30 L435.5,215.24 L436.0,210.85 L436.5,206.20 L437.0,201.35 L437.5,196.39 L438.0,191.43 L438.5,186.52 L439.0,181.62 L439.5,176.67 L440.0,172.98 L440.1,172.80 L440.5,175.20 L441.0,179.81 L441.5,183.29 L442.0,186.82 L442.5,191.27 L443.0,196.97 L443.5,203.82 L444.0,211.41 L444.5,219.12 L445.0,226.27 L445.5,232.32 L446.0,236.97 L446.5,240.20 L447.0,242.22 L447.5,243.35 L448.0,243.91 L448.5,244.16 L449.0,244.27 L449.5,244.31 L450.0,244.32 L450.5,244.33 L451.0,244.34 L451.5,244.34 L452.0,244.35 L452.5,244.35 L453.0,244.36 L453.5,244.36 L454.0,244.36 L454.5,244.36 L455.0,244.37 L455.5,244.37 L456.0,244.37 L456.5,244.37 L457.0,244.37 L457.5,244.38 L458.0,244.38 L458.5,244.38 L459.0,244.38 L459.5,244.38 L460.0,244.38 L460.5,244.38 L461.0,244.38 L461.5,244.38 L462.0,244.38 L462.5,244.39 L463.0,244.39 L463.5,244.39 L464.0,244.39 L464.5,244.39 L465.0,244.39 L465.5,244.39 L466.0,244.39 L466.5,244.39 L467.0,244.39 L467.5,244.39 L468.0,244.39 L468.5,244.39 L469.0,244.39 L469.5,244.39 L470.0,244.39 L470.5,244.39 L471.0,244.39 L471.5,244.39 L472.0,244.39 L472.5,244.39 L473.0,244.39 L473.5,244.39 L474.0,244.39 L474.5,244.39 L475.0,244.39 L475.5,244.39 L476.0,244.39 L476.5,244.39 L477.0,244.39 L477.5,244.39 L478.0,244.39 L478.5,244.40 L479.0,244.40 L479.5,244.40 L480.0,244.40 L480.5,244.40 L481.0,244.40 L481.5,244.40 L482.0,244.40 L482.5,244.40 L483.0,244.40 L483.5,244.40 L484.0,244.40 L484.5,244.40 L485.0,244.40 L485.5,244.40 L486.0,244.40 L486.5,244.40 L487.0,244.40 L487.5,244.40 L488.0,244.40 L488.5,244.40 L489.0,244.40 L489.5,244.40 L490.0,244.40 L490.5,244.40 L491.0,244.40 L491.5,244.40 L492.0,244.40 L492.5,244.40 L493.0,244.40 L493.5,244.40 L494.0,244.40 L494.5,244.40 L495.0,244.40 L495.5,244.40 L496.0,244.40 L496.5,244.40 L497.0,244.40 L497.5,244.40 L498.0,244.40 L498.5,244.40 L499.0,244.40 L499.5,244.40 L500.0,244.40 L500.5,244.40 L501.0,244.40 L501.5,244.40 L502.0,244.40 L502.5,244.40 L503.0,244.40 L503.5,244.40 L504.0,244.40 L504.5,244.40 L505.0,244.40 L505.5,244.40 L506.0,244.40 L506.5,244.40 L507.0,244.40 L507.5,244.40 L508.0,244.40 L508.5,244.40 L509.0,244.40 L509.5,244.40 L510.0,244.40 L510.5,244.40 L511.0,244.40 L511.5,244.40 L512.0,244.40 L512.5,244.40 L513.0,244.40 L513.5,244.40 L514.0,244.40 L514.5,244.40 L515.0,244.40 L515.5,244.40 L516.0,244.40 L516.5,244.40 L517.0,244.40" fill="none" stroke="#7a7a7a" stroke-width="1.0" stroke-dasharray="2.6,2.2"/>
</svg>
<line x1="406.00" y1="165.50" x2="517.30" y2="165.50" stroke="#3a3a3a" stroke-width="1"/>
<line x1="517.30" y1="165.50" x2="517.30" y2="244.40" stroke="#777" stroke-width="1"/>
<line x1="406.00" y1="165.50" x2="406.00" y2="244.40" stroke="#888" stroke-width="0.8"/>
<path d="M406.30,244.40 h-2.0 M406.30,241.79 h-1.3 M406.30,239.17 h-1.3 M406.30,236.56 h-1.3 M406.30,233.95 h-1.3 M406.30,231.33 h-2.0 M406.30,228.72 h-1.3 M406.30,226.11 h-1.3 M406.30,223.49 h-1.3 M406.30,220.88 h-1.3 M406.30,218.27 h-2.0 M406.30,215.65 h-1.3 M406.30,213.04 h-1.3 M406.30,210.43 h-1.3 M406.30,207.81 h-1.3 M406.30,205.20 h-2.0 M406.30,202.59 h-1.3 M406.30,199.97 h-1.3 M406.30,197.36 h-1.3 M406.30,194.75 h-1.3 M406.30,192.13 h-2.0 M406.30,189.52 h-1.3 M406.30,186.91 h-1.3 M406.30,184.29 h-1.3 M406.30,181.68 h-1.3 M406.30,179.07 h-2.0 M406.30,176.45 h-1.3 M406.30,173.84 h-1.3 M406.30,171.23 h-1.3 M406.30,168.61 h-1.3 M406.30,166.00 h-2.0" stroke="#333" stroke-width="0.9"/>
<line x1="405.60" y1="244.40" x2="517.30" y2="244.40" stroke="#1a1a1a" stroke-width="1.3"/>
<path d="M406.00,245.00 v2.0 M414.38,245.00 v1.0 M419.28,245.00 v1.0 M422.75,245.00 v1.0 M425.45,245.00 v1.0 M427.65,245.00 v1.0 M429.51,245.00 v1.0 M431.13,245.00 v1.0 M432.55,245.00 v1.0 M433.82,245.00 v2.0 M442.20,245.00 v1.0 M447.10,245.00 v1.0 M450.58,245.00 v1.0 M453.27,245.00 v1.0 M455.48,245.00 v1.0 M457.34,245.00 v1.0 M458.95,245.00 v1.0 M460.38,245.00 v1.0 M461.65,245.00 v2.0 M470.03,245.00 v1.0 M474.93,245.00 v1.0 M478.40,245.00 v1.0 M481.10,245.00 v1.0 M483.30,245.00 v1.0 M485.16,245.00 v1.0 M486.78,245.00 v1.0 M488.20,245.00 v1.0 M489.48,245.00 v2.0 M497.85,245.00 v1.0 M502.75,245.00 v1.0 M506.23,245.00 v1.0 M508.92,245.00 v1.0 M511.13,245.00 v1.0 M512.99,245.00 v1.0 M514.60,245.00 v1.0 M516.03,245.00 v1.0 M517.30,245.00 v2.0" stroke="#666" stroke-width="0.5"/>
<text transform="translate(403.60,243.60) rotate(-90)" font-size="4.6" text-anchor="middle" textLength="3.20" lengthAdjust="spacingAndGlyphs" fill="#555" stroke="#555" stroke-width="0.2">0</text>
<text transform="translate(403.60,230.50) rotate(-90)" font-size="4.6" text-anchor="middle" textLength="6.20" lengthAdjust="spacingAndGlyphs" fill="#555" stroke="#555" stroke-width="0.2">30</text>
<text transform="translate(403.60,218.40) rotate(-90)" font-size="4.6" text-anchor="middle" textLength="6.20" lengthAdjust="spacingAndGlyphs" fill="#555" stroke="#555" stroke-width="0.2">60</text>
<text transform="translate(403.60,205.40) rotate(-90)" font-size="4.6" text-anchor="middle" textLength="6.20" lengthAdjust="spacingAndGlyphs" fill="#555" stroke="#555" stroke-width="0.2">90</text>
<text transform="translate(403.60,190.40) rotate(-90)" font-size="4.6" text-anchor="middle" textLength="9.40" lengthAdjust="spacingAndGlyphs" fill="#555" stroke="#555" stroke-width="0.2">120</text>
<text transform="translate(403.60,177.50) rotate(-90)" font-size="4.6" text-anchor="middle" textLength="9.40" lengthAdjust="spacingAndGlyphs" fill="#555" stroke="#555" stroke-width="0.2">150</text>
<text transform="translate(403.60,164.80) rotate(-90)" font-size="4.6" text-anchor="middle" textLength="9.40" lengthAdjust="spacingAndGlyphs" fill="#555" stroke="#555" stroke-width="0.2">180</text>
<text transform="translate(399.40,206.20) rotate(-90)" font-size="4.8" text-anchor="middle" textLength="19.50" lengthAdjust="spacingAndGlyphs" fill="#666" stroke="#666" stroke-width="0.05">Counts</text>
<text x="404.00" y="254.60" font-size="6.8" textLength="4.3" lengthAdjust="spacingAndGlyphs" fill="#666" stroke="#666" stroke-width="0.25">10</text>
<text x="408.40" y="250.40" font-size="4.8" textLength="2.2" lengthAdjust="spacingAndGlyphs" fill="#666" stroke="#666" stroke-width="0.2">0</text>
<text x="431.82" y="254.60" font-size="6.8" textLength="4.3" lengthAdjust="spacingAndGlyphs" fill="#666" stroke="#666" stroke-width="0.25">10</text>
<text x="436.22" y="250.40" font-size="4.8" textLength="2.2" lengthAdjust="spacingAndGlyphs" fill="#666" stroke="#666" stroke-width="0.2">1</text>
<text x="459.65" y="254.60" font-size="6.8" textLength="4.3" lengthAdjust="spacingAndGlyphs" fill="#666" stroke="#666" stroke-width="0.25">10</text>
<text x="464.05" y="250.40" font-size="4.8" textLength="2.2" lengthAdjust="spacingAndGlyphs" fill="#666" stroke="#666" stroke-width="0.2">2</text>
<text x="487.48" y="254.60" font-size="6.8" textLength="4.3" lengthAdjust="spacingAndGlyphs" fill="#666" stroke="#666" stroke-width="0.25">10</text>
<text x="491.88" y="250.40" font-size="4.8" textLength="2.2" lengthAdjust="spacingAndGlyphs" fill="#666" stroke="#666" stroke-width="0.2">3</text>
<text x="515.30" y="254.60" font-size="6.8" textLength="4.3" lengthAdjust="spacingAndGlyphs" fill="#666" stroke="#666" stroke-width="0.25">10</text>
<text x="519.70" y="250.40" font-size="4.8" textLength="2.2" lengthAdjust="spacingAndGlyphs" fill="#666" stroke="#666" stroke-width="0.2">4</text>
<text x="444.20" y="260.60" font-size="5.2" textLength="35" lengthAdjust="spacingAndGlyphs" fill="#333" stroke="#333" stroke-width="0.25">STAT1-p Alexa-488</text>
<text x="475.80" y="204.10" font-size="7.1" textLength="34.60" lengthAdjust="spacingAndGlyphs" fill="#111" stroke="#111" stroke-width="0.15">sMFI 48.38</text>
<text x="89.80" y="84.70" font-size="7.1" textLength="24.10" lengthAdjust="spacingAndGlyphs" fill="#111" stroke="#111" stroke-width="0.25">isotype</text>
<line x1="117.3" y1="82.9" x2="128" y2="82.9" stroke="#444" stroke-width="1.2" stroke-dasharray="2.6,1.4"/>
<text x="90.80" y="102.70" font-size="7.1" textLength="20.20" lengthAdjust="spacingAndGlyphs" fill="#111" stroke="#111" stroke-width="0.25">IFNAR</text>
<rect x="117.7" y="99.6" width="10.8" height="3.9" fill="#c2c2c2"/>
<line x1="117.7" y1="99.4" x2="128.5" y2="99.4" stroke="#111" stroke-width="1.4"/>
<line x1="37.2" y1="298.8" x2="37.2" y2="387.10" stroke="#333" stroke-width="1.1"/>
<line x1="37.2" y1="387.10" x2="175.5" y2="387.10" stroke="#333" stroke-width="1.1"/>
<line x1="35.00" y1="387.10" x2="37.2" y2="387.10" stroke="#333" stroke-width="0.9"/>
<text x="31.40" y="390.60" font-size="6.6" textLength="2.90" lengthAdjust="spacingAndGlyphs" fill="#222" stroke="#222" stroke-width="0.25">0</text>
<line x1="35.00" y1="358.30" x2="37.2" y2="358.30" stroke="#333" stroke-width="0.9"/>
<text x="24.80" y="361.80" font-size="6.6" textLength="9.50" lengthAdjust="spacingAndGlyphs" fill="#222" stroke="#222" stroke-width="0.25">100</text>
<line x1="35.00" y1="329.20" x2="37.2" y2="329.20" stroke="#333" stroke-width="0.9"/>
<text x="24.40" y="332.70" font-size="6.6" textLength="9.90" lengthAdjust="spacingAndGlyphs" fill="#222" stroke="#222" stroke-width="0.25">200</text>
<line x1="35.00" y1="299.60" x2="37.2" y2="299.60" stroke="#333" stroke-width="0.9"/>
<text x="24.00" y="303.10" font-size="6.6" textLength="10.30" lengthAdjust="spacingAndGlyphs" fill="#222" stroke="#222" stroke-width="0.25">300</text>
<line x1="48.6" y1="387.1" x2="48.6" y2="389.6" stroke="#333" stroke-width="0.9"/>
<line x1="71.8" y1="387.1" x2="71.8" y2="389.6" stroke="#333" stroke-width="0.9"/>
<line x1="94.6" y1="387.1" x2="94.6" y2="389.6" stroke="#333" stroke-width="0.9"/>
<line x1="117.9" y1="387.1" x2="117.9" y2="389.6" stroke="#333" stroke-width="0.9"/>
<line x1="140.8" y1="387.1" x2="140.8" y2="389.6" stroke="#333" stroke-width="0.9"/>
<line x1="163.8" y1="387.1" x2="163.8" y2="389.6" stroke="#333" stroke-width="0.9"/>
<text x="41.80" y="397.10" font-size="6.6" textLength="15.00" lengthAdjust="spacingAndGlyphs" font-weight="bold" fill="#1a1a1a" stroke="#1a1a1a" stroke-width="0.2">1,000</text>
<text x="64.20" y="397.10" font-size="6.6" textLength="14.80" lengthAdjust="spacingAndGlyphs" font-weight="bold" fill="#1a1a1a" stroke="#1a1a1a" stroke-width="0.2">3,000</text>
<text x="85.80" y="397.10" font-size="6.6" textLength="18.80" lengthAdjust="spacingAndGlyphs" font-weight="bold" fill="#1a1a1a" stroke="#1a1a1a" stroke-width="0.2">10,000</text>
<text x="110.70" y="397.10" font-size="6.6" textLength="15.50" lengthAdjust="spacingAndGlyphs" font-weight="bold" fill="#1a1a1a" stroke="#1a1a1a" stroke-width="0.2">1,000</text>
<text x="133.60" y="397.10" font-size="6.6" textLength="14.80" lengthAdjust="spacingAndGlyphs" font-weight="bold" fill="#1a1a1a" stroke="#1a1a1a" stroke-width="0.2">3,000</text>
<text x="155.10" y="397.10" font-size="6.6" textLength="17.50" lengthAdjust="spacingAndGlyphs" font-weight="bold" fill="#1a1a1a" stroke="#1a1a1a" stroke-width="0.2">10,000</text>
<path d="M45.1,401.7 V409.0 H98.5 V401.7" fill="none" stroke="#1a1a1a" stroke-width="1.4"/>
<path d="M112.4,401.7 V409.0 H167.0 V401.7" fill="none" stroke="#1a1a1a" stroke-width="1.4"/>
<text x="65.00" y="407.40" font-size="8.0" textLength="12.70" lengthAdjust="spacingAndGlyphs" fill="#222" stroke="#222" stroke-width="0.3">HIV-</text>
<text x="134.30" y="407.20" font-size="8.0" textLength="15.80" lengthAdjust="spacingAndGlyphs" fill="#222" stroke="#222" stroke-width="0.3">HIV+</text>
<text x="74.30" y="416.50" font-size="7.0" textLength="51.30" lengthAdjust="spacingAndGlyphs" fill="#222" stroke="#222" stroke-width="0.3">[IFN&#945;2a] (U/mL)</text>
<path d="M49.4,324 V319.8 H118.7 V324" fill="none" stroke="#111" stroke-width="1.1"/>
<path d="M70.7,309 V304.5 H138.9 V309" fill="none" stroke="#111" stroke-width="1.1"/>
<path d="M92.2,296.4 V292.5 H162.6 V296.4" fill="none" stroke="#111" stroke-width="1.1"/>
<text x="64.20" y="316.60" font-size="7.2" textLength="26.30" lengthAdjust="spacingAndGlyphs" fill="#222" stroke="#222" stroke-width="0.1"><tspan font-style="italic">P</tspan> = .012</text>
<text x="86.80" y="302.20" font-size="7.2" textLength="26.30" lengthAdjust="spacingAndGlyphs" fill="#222" stroke="#222" stroke-width="0.1"><tspan font-style="italic">P</tspan> = .005</text>
<text x="112.50" y="289.60" font-size="7.2" textLength="26.50" lengthAdjust="spacingAndGlyphs" fill="#222" stroke="#222" stroke-width="0.1"><tspan font-style="italic">P</tspan> = .075</text>
<text transform="translate(8.20,351.00) rotate(-90)" font-size="9.0" text-anchor="middle" textLength="59.80" lengthAdjust="spacingAndGlyphs" fill="#222" stroke="#222" stroke-width="0.2">Phospho-STAT1</text>
<text transform="translate(18.20,351.00) rotate(-90)" font-size="9.0" text-anchor="middle" textLength="60.00" lengthAdjust="spacingAndGlyphs" fill="#222" stroke="#222" stroke-width="0.2">(&#916; specific MFI)</text>
<path d="M43.50,354.95 L45.60,358.65 L41.40,358.65 Z" fill="#fff" stroke="#111" stroke-width="1.2"/>
<path d="M49.00,354.95 L51.10,358.65 L46.90,358.65 Z" fill="#fff" stroke="#111" stroke-width="1.2"/>
<path d="M54.30,357.85 L56.40,361.55 L52.20,361.55 Z" fill="#fff" stroke="#111" stroke-width="1.2"/>
<path d="M49.00,360.45 L51.10,364.15 L46.90,364.15 Z" fill="#fff" stroke="#111" stroke-width="1.2"/>
<path d="M43.50,365.85 L45.60,369.55 L41.40,369.55 Z" fill="#fff" stroke="#111" stroke-width="1.2"/>
<path d="M49.00,370.15 L51.10,373.85 L46.90,373.85 Z" fill="#fff" stroke="#111" stroke-width="1.2"/>
<path d="M49.00,377.15 L51.10,380.85 L46.90,380.85 Z" fill="#fff" stroke="#111" stroke-width="1.2"/>
<path d="M54.30,375.45 L56.40,379.15 L52.20,379.15 Z" fill="#fff" stroke="#111" stroke-width="1.2"/>
<path d="M71.90,321.95 L74.00,325.65 L69.80,325.65 Z" fill="#fff" stroke="#111" stroke-width="1.2"/>
<path d="M69.20,347.45 L71.30,351.15 L67.10,351.15 Z" fill="#fff" stroke="#111" stroke-width="1.2"/>
<path d="M74.70,347.75 L76.80,351.45 L72.60,351.45 Z" fill="#fff" stroke="#111" stroke-width="1.2"/>
<path d="M66.20,349.15 L68.30,352.85 L64.10,352.85 Z" fill="#fff" stroke="#111" stroke-width="1.2"/>
<path d="M72.00,349.35 L74.10,353.05 L69.90,353.05 Z" fill="#fff" stroke="#111" stroke-width="1.2"/>
<path d="M77.60,349.15 L79.70,352.85 L75.50,352.85 Z" fill="#fff" stroke="#111" stroke-width="1.2"/>
<path d="M71.70,365.15 L73.80,368.85 L69.60,368.85 Z" fill="#fff" stroke="#111" stroke-width="1.2"/>
<path d="M71.70,376.45 L73.80,380.15 L69.60,380.15 Z" fill="#fff" stroke="#111" stroke-width="1.2"/>
<path d="M94.80,339.15 L96.90,342.85 L92.70,342.85 Z" fill="#fff" stroke="#111" stroke-width="1.2"/>
<path d="M89.30,344.15 L91.40,347.85 L87.20,347.85 Z" fill="#fff" stroke="#111" stroke-width="1.2"/>
<path d="M97.60,343.05 L99.70,346.75 L95.50,346.75 Z" fill="#fff" stroke="#111" stroke-width="1.2"/>
<path d="M100.50,345.85 L102.60,349.55 L98.40,349.55 Z" fill="#fff" stroke="#111" stroke-width="1.2"/>
<path d="M89.00,348.55 L91.10,352.25 L86.90,352.25 Z" fill="#fff" stroke="#111" stroke-width="1.2"/>
<path d="M95.00,348.55 L97.10,352.25 L92.90,352.25 Z" fill="#fff" stroke="#111" stroke-width="1.2"/>
<path d="M94.90,362.85 L97.00,366.55 L92.80,366.55 Z" fill="#fff" stroke="#111" stroke-width="1.2"/>
<rect x="116.50" y="342.70" width="3.4" height="3.4" fill="#fff" stroke="#222" stroke-width="1.0"/>
<rect x="121.80" y="341.60" width="3.4" height="3.4" fill="#fff" stroke="#222" stroke-width="1.0"/>
<rect x="110.90" y="377.50" width="3.4" height="3.4" fill="#fff" stroke="#222" stroke-width="1.0"/>
<rect x="121.90" y="375.70" width="3.4" height="3.4" fill="#fff" stroke="#222" stroke-width="1.0"/>
<rect x="116.40" y="379.60" width="3.4" height="3.4" fill="#fff" stroke="#222" stroke-width="1.0"/>
<rect x="109.10" y="386.10" width="3.4" height="3.4" fill="#fff" stroke="#222" stroke-width="1.0"/>
<rect x="112.90" y="386.30" width="3.4" height="3.4" fill="#fff" stroke="#222" stroke-width="1.0"/>
<rect x="116.70" y="386.30" width="3.4" height="3.4" fill="#fff" stroke="#222" stroke-width="1.0"/>
<rect x="120.50" y="386.30" width="3.4" height="3.4" fill="#fff" stroke="#222" stroke-width="1.0"/>
<rect x="123.30" y="386.10" width="3.4" height="3.4" fill="#fff" stroke="#222" stroke-width="1.0"/>
<rect x="139.20" y="317.40" width="3.4" height="3.4" fill="#fff" stroke="#222" stroke-width="1.0"/>
<rect x="138.90" y="354.80" width="3.4" height="3.4" fill="#fff" stroke="#222" stroke-width="1.0"/>
<rect x="144.90" y="354.10" width="3.4" height="3.4" fill="#fff" stroke="#222" stroke-width="1.0"/>
<rect x="138.90" y="366.90" width="3.4" height="3.4" fill="#fff" stroke="#222" stroke-width="1.0"/>
<rect x="138.90" y="373.90" width="3.4" height="3.4" fill="#fff" stroke="#222" stroke-width="1.0"/>
<rect x="133.30" y="375.90" width="3.4" height="3.4" fill="#fff" stroke="#222" stroke-width="1.0"/>
<rect x="139.90" y="381.00" width="3.4" height="3.4" fill="#fff" stroke="#222" stroke-width="1.0"/>
<rect x="133.30" y="383.50" width="3.4" height="3.4" fill="#fff" stroke="#222" stroke-width="1.0"/>
<rect x="138.90" y="383.00" width="3.4" height="3.4" fill="#fff" stroke="#222" stroke-width="1.0"/>
<rect x="144.90" y="383.50" width="3.4" height="3.4" fill="#fff" stroke="#222" stroke-width="1.0"/>
<rect x="162.20" y="301.60" width="3.4" height="3.4" fill="#fff" stroke="#222" stroke-width="1.0"/>
<rect x="162.20" y="315.90" width="3.4" height="3.4" fill="#fff" stroke="#222" stroke-width="1.0"/>
<rect x="162.10" y="340.20" width="3.4" height="3.4" fill="#fff" stroke="#222" stroke-width="1.0"/>
<rect x="162.10" y="349.10" width="3.4" height="3.4" fill="#fff" stroke="#222" stroke-width="1.0"/>
<rect x="156.50" y="356.50" width="3.4" height="3.4" fill="#fff" stroke="#222" stroke-width="1.0"/>
<rect x="162.10" y="362.10" width="3.4" height="3.4" fill="#fff" stroke="#222" stroke-width="1.0"/>
<rect x="162.10" y="369.80" width="3.4" height="3.4" fill="#fff" stroke="#222" stroke-width="1.0"/>
<rect x="162.10" y="375.80" width="3.4" height="3.4" fill="#fff" stroke="#222" stroke-width="1.0"/>
<rect x="156.50" y="381.00" width="3.4" height="3.4" fill="#fff" stroke="#222" stroke-width="1.0"/>
<rect x="159.30" y="379.50" width="3.4" height="3.4" fill="#fff" stroke="#222" stroke-width="1.0"/>
<rect x="164.60" y="379.50" width="3.4" height="3.4" fill="#fff" stroke="#222" stroke-width="1.0"/>
<rect x="167.60" y="381.70" width="3.4" height="3.4" fill="#fff" stroke="#222" stroke-width="1.0"/>
<rect x="162.10" y="383.90" width="3.4" height="3.4" fill="#fff" stroke="#222" stroke-width="1.0"/>
<line x1="40.2" y1="365.0" x2="56.8" y2="365.0" stroke="#000" stroke-width="1.7"/>
<line x1="63.4" y1="351.6" x2="80.0" y2="351.6" stroke="#000" stroke-width="1.7"/>
<line x1="86.4" y1="347.5" x2="102.5" y2="347.5" stroke="#000" stroke-width="1.7"/>
<line x1="109.2" y1="385.0" x2="125.7" y2="385.0" stroke="#000" stroke-width="1.7"/>
<line x1="132.5" y1="381.2" x2="149.1" y2="381.2" stroke="#000" stroke-width="1.7"/>
<line x1="155.2" y1="370.4" x2="172.0" y2="370.4" stroke="#000" stroke-width="1.7"/>
</svg>
</body></html>
